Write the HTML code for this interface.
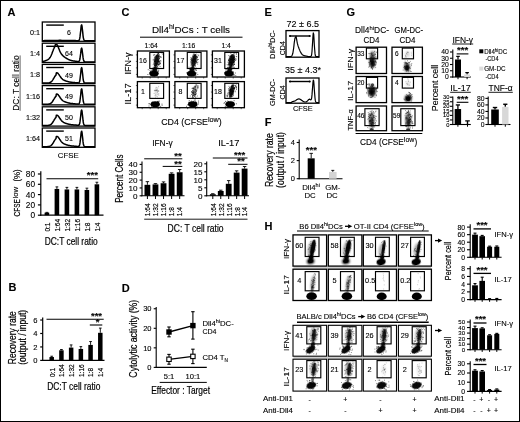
<!DOCTYPE html>
<html><head><meta charset="utf-8"><title>Figure</title>
<style>
html,body{margin:0;padding:0;background:#fff;}
body{width:520px;height:422px;overflow:hidden;position:relative;}
svg{position:absolute;left:0;top:0;display:block;font-family:"Liberation Sans",sans-serif;}
svg line{stroke:#000;}
svg text{fill:#000;stroke:#000;stroke-width:0.12px;}
svg text.n{stroke-width:0.2px;}
#fig{filter:blur(0.35px);}
</style></head><body>
<svg width="520" height="422" viewBox="0 0 520 422">
<rect x="0" y="0" width="520" height="422" fill="#fff"/>
<defs><filter id="b" x="-50%" y="-50%" width="200%" height="200%"><feGaussianBlur stdDeviation="0.55"/></filter><filter id="b2" x="-60%" y="-60%" width="220%" height="220%"><feGaussianBlur stdDeviation="1.1"/></filter></defs>
<g id="fig">
<text x="7.4" y="16.1" font-size="11" font-weight="bold">A</text>
<text x="8.5" y="291.3" font-size="11" font-weight="bold">B</text>
<text x="121.5" y="16.3" font-size="11" font-weight="bold">C</text>
<text x="121.8" y="291.6" font-size="11" font-weight="bold">D</text>
<text x="264.6" y="15.9" font-size="11" font-weight="bold">E</text>
<text x="264.8" y="125.6" font-size="11" font-weight="bold">F</text>
<text x="346.4" y="16.3" font-size="11" font-weight="bold">G</text>
<text x="264.4" y="230" font-size="11" font-weight="bold">H</text>
<rect x="42.30" y="22.00" width="52.70" height="19.30" fill="none" stroke="#000" stroke-width="1.3"/>
<path d="M42.3 40.7 L42.6 40.7 L43.0 40.7 L43.3 40.7 L43.6 40.7 L44.0 40.7 L44.3 40.6 L44.6 40.6 L45.0 40.6 L45.3 40.6 L45.6 40.6 L46.0 40.6 L46.3 40.6 L46.6 40.6 L47.0 40.6 L47.3 40.6 L47.6 40.6 L48.0 40.6 L48.3 40.6 L48.6 40.6 L49.0 40.6 L49.3 40.6 L49.6 40.5 L50.0 40.5 L50.3 40.5 L50.6 40.5 L51.0 40.5 L51.3 40.5 L51.6 40.5 L52.0 40.5 L52.3 40.5 L52.6 40.5 L53.0 40.5 L53.3 40.5 L53.6 40.4 L54.0 40.4 L54.3 40.4 L54.6 40.4 L55.0 40.4 L55.3 40.4 L55.6 40.4 L56.0 40.4 L56.3 40.4 L56.6 40.4 L57.0 40.4 L57.3 40.4 L57.6 40.4 L58.0 40.4 L58.3 40.4 L58.6 40.4 L59.0 40.3 L59.3 40.3 L59.6 40.3 L60.0 40.3 L60.3 40.3 L60.6 40.3 L61.0 40.3 L61.3 40.4 L61.6 40.4 L62.0 40.4 L62.3 40.4 L62.6 40.4 L63.0 40.4 L63.3 40.4 L63.6 40.4 L64.0 40.4 L64.3 40.4 L64.6 40.4 L65.0 40.4 L65.3 40.4 L65.6 40.4 L66.0 40.4 L66.3 40.4 L66.6 40.4 L67.0 40.5 L67.3 40.5 L67.6 40.5 L68.0 40.5 L68.3 40.5 L68.7 40.5 L69.0 40.5 L69.3 40.5 L69.7 40.5 L70.0 40.5 L70.3 40.5 L70.7 40.6 L71.0 40.6 L71.3 40.6 L71.7 40.6 L72.0 40.6 L72.3 40.6 L72.7 40.6 L73.0 40.6 L73.3 40.6 L73.7 40.6 L74.0 40.6 L74.3 40.6 L74.7 40.6 L75.0 40.6 L75.3 40.6 L75.7 40.6 L76.0 40.7 L76.3 40.7 L76.7 40.7 L77.0 40.7 L77.3 40.7 L77.7 40.7 L78.0 40.7 L78.3 40.6 L78.7 40.5 L79.0 40.3 L79.3 39.8 L79.7 38.7 L80.0 36.9 L80.3 34.2 L80.7 30.9 L81.0 27.7 L81.3 25.4 L81.7 24.8 L82.0 26.1 L82.3 28.8 L82.7 32.1 L83.0 35.3 L83.3 37.6 L83.7 39.2 L84.0 40.0 L84.3 40.4 L84.7 40.6 L85.0 40.7 L85.3 40.7 L85.7 40.7 L86.0 40.7 L86.3 40.7 L86.7 40.7 L87.0 40.7 L87.3 40.7 L87.7 40.7 L88.0 40.7 L88.3 40.7 L88.7 40.7 L89.0 40.7 L89.3 40.7 L89.7 40.7 L90.0 40.7 L90.3 40.7 L90.7 40.7 L91.0 40.7 L91.3 40.7 L91.7 40.7 L92.0 40.7 L92.3 40.7 L92.7 40.7 L93.0 40.7 L93.3 40.7 L93.7 40.7 L94.0 40.7 L94.3 40.7 L94.7 40.7 L95.0 40.7" fill="none" stroke="#000" stroke-width="1.5" stroke-linejoin="round"/>
<line x1="46.20" y1="25.10" x2="63.80" y2="25.10" stroke-width="1.4"/>
<text transform="translate(40.00,32.20) scale(0.95,1)" y="2.72" font-size="7.6" text-anchor="end">0:1</text>
<text transform="translate(69.00,32.50) scale(0.93,1)" y="2.72" font-size="7.6" text-anchor="middle">6</text>
<rect x="42.30" y="43.20" width="52.70" height="19.30" fill="none" stroke="#000" stroke-width="1.3"/>
<path d="M42.3 61.6 L42.6 61.5 L43.0 61.4 L43.3 61.4 L43.6 61.3 L44.0 61.2 L44.3 61.1 L44.6 61.0 L45.0 60.9 L45.3 60.8 L45.6 60.7 L46.0 60.6 L46.3 60.4 L46.6 60.3 L47.0 60.1 L47.3 60.0 L47.6 59.8 L48.0 59.6 L48.3 59.3 L48.6 59.1 L49.0 58.8 L49.3 58.4 L49.6 58.0 L50.0 57.6 L50.3 57.1 L50.6 56.5 L51.0 55.8 L51.3 55.1 L51.6 54.3 L52.0 53.5 L52.3 52.6 L52.6 51.7 L53.0 50.8 L53.3 49.9 L53.6 49.0 L54.0 48.3 L54.3 47.6 L54.6 47.0 L55.0 46.5 L55.3 44.7 L55.6 44.7 L56.0 44.7 L56.3 44.7 L56.6 44.7 L57.0 44.7 L57.3 45.0 L57.6 45.7 L58.0 46.5 L58.3 47.3 L58.6 48.2 L59.0 49.0 L59.3 49.8 L59.6 50.6 L60.0 51.4 L60.3 52.1 L60.6 52.7 L61.0 53.3 L61.3 53.8 L61.6 54.3 L62.0 54.7 L62.3 55.1 L62.6 55.4 L63.0 55.8 L63.3 56.1 L63.6 56.3 L64.0 56.6 L64.3 56.9 L64.6 57.1 L65.0 57.3 L65.3 57.6 L65.6 57.8 L66.0 58.0 L66.3 58.2 L66.6 58.5 L67.0 58.7 L67.3 58.9 L67.6 59.0 L68.0 59.2 L68.3 59.4 L68.7 59.6 L69.0 59.7 L69.3 59.8 L69.7 60.0 L70.0 60.1 L70.3 60.2 L70.7 60.3 L71.0 60.4 L71.3 60.5 L71.7 60.6 L72.0 60.7 L72.3 60.7 L72.7 60.8 L73.0 60.9 L73.3 60.9 L73.7 61.0 L74.0 61.0 L74.3 61.1 L74.7 61.1 L75.0 61.2 L75.3 61.2 L75.7 61.3 L76.0 61.3 L76.3 61.3 L76.7 61.4 L77.0 61.4 L77.3 61.5 L77.7 61.5 L78.0 61.5 L78.3 61.6 L78.7 61.5 L79.0 61.3 L79.3 60.9 L79.7 60.0 L80.0 58.5 L80.3 56.2 L80.7 53.4 L81.0 50.7 L81.3 48.7 L81.7 48.1 L82.0 49.2 L82.3 51.6 L82.7 54.5 L83.0 57.2 L83.3 59.2 L83.7 60.6 L84.0 61.3 L84.3 61.7 L84.7 61.8 L85.0 61.9 L85.3 61.9 L85.7 61.9 L86.0 61.9 L86.3 61.9 L86.7 61.9 L87.0 61.9 L87.3 61.9 L87.7 61.9 L88.0 61.9 L88.3 61.9 L88.7 61.9 L89.0 61.9 L89.3 61.9 L89.7 61.9 L90.0 61.9 L90.3 61.9 L90.7 61.9 L91.0 61.9 L91.3 61.9 L91.7 61.9 L92.0 61.9 L92.3 61.9 L92.7 61.9 L93.0 61.9 L93.3 61.9 L93.7 61.9 L94.0 61.9 L94.3 61.9 L94.7 61.9 L95.0 61.9" fill="none" stroke="#000" stroke-width="1.5" stroke-linejoin="round"/>
<line x1="46.20" y1="46.30" x2="63.80" y2="46.30" stroke-width="1.4"/>
<text transform="translate(40.00,53.40) scale(0.95,1)" y="2.72" font-size="7.6" text-anchor="end">1:4</text>
<text transform="translate(69.00,53.70) scale(0.93,1)" y="2.72" font-size="7.6" text-anchor="middle">64</text>
<rect x="42.30" y="64.40" width="52.70" height="19.30" fill="none" stroke="#000" stroke-width="1.3"/>
<path d="M42.3 83.1 L42.6 83.1 L43.0 83.1 L43.3 83.1 L43.6 83.1 L44.0 83.1 L44.3 83.1 L44.6 83.1 L45.0 83.1 L45.3 83.1 L45.6 83.1 L46.0 83.1 L46.3 83.1 L46.6 83.1 L47.0 83.1 L47.3 83.1 L47.6 83.0 L48.0 83.0 L48.3 83.0 L48.6 82.9 L49.0 82.9 L49.3 82.8 L49.6 82.7 L50.0 82.6 L50.3 82.4 L50.6 82.2 L51.0 82.0 L51.3 81.7 L51.6 81.4 L52.0 81.0 L52.3 80.6 L52.6 80.1 L53.0 79.6 L53.3 79.0 L53.6 78.5 L54.0 77.9 L54.3 77.3 L54.6 76.8 L55.0 76.3 L55.3 75.8 L55.6 75.4 L56.0 75.1 L56.3 72.9 L56.6 72.8 L57.0 72.8 L57.3 72.9 L57.6 73.1 L58.0 73.4 L58.3 73.7 L58.6 74.1 L59.0 74.6 L59.3 75.1 L59.6 75.6 L60.0 76.1 L60.3 76.6 L60.6 77.1 L61.0 77.5 L61.3 78.0 L61.6 78.4 L62.0 78.7 L62.3 79.0 L62.6 79.3 L63.0 79.6 L63.3 79.8 L63.6 80.0 L64.0 80.2 L64.3 80.4 L64.6 80.5 L65.0 80.6 L65.3 80.8 L65.6 80.9 L66.0 81.0 L66.3 81.1 L66.6 81.2 L67.0 81.3 L67.3 81.4 L67.6 81.5 L68.0 81.6 L68.3 81.7 L68.7 81.8 L69.0 81.9 L69.3 81.9 L69.7 82.0 L70.0 82.0 L70.3 82.1 L70.7 82.2 L71.0 82.2 L71.3 82.3 L71.7 82.3 L72.0 82.3 L72.3 82.4 L72.7 82.4 L73.0 82.4 L73.3 82.5 L73.7 82.5 L74.0 82.5 L74.3 82.6 L74.7 82.6 L75.0 82.6 L75.3 82.7 L75.7 82.7 L76.0 82.7 L76.3 82.7 L76.7 82.8 L77.0 82.8 L77.3 82.8 L77.7 82.8 L78.0 82.9 L78.3 82.9 L78.7 82.8 L79.0 82.6 L79.3 82.1 L79.7 81.1 L80.0 79.3 L80.3 76.7 L80.7 73.6 L81.0 70.4 L81.3 68.2 L81.7 67.6 L82.0 68.8 L82.3 71.5 L82.7 74.7 L83.0 77.8 L83.3 80.1 L83.7 81.6 L84.0 82.4 L84.3 82.8 L84.7 83.0 L85.0 83.1 L85.3 83.1 L85.7 83.1 L86.0 83.1 L86.3 83.1 L86.7 83.1 L87.0 83.1 L87.3 83.1 L87.7 83.1 L88.0 83.1 L88.3 83.1 L88.7 83.1 L89.0 83.1 L89.3 83.1 L89.7 83.1 L90.0 83.1 L90.3 83.1 L90.7 83.1 L91.0 83.1 L91.3 83.1 L91.7 83.1 L92.0 83.1 L92.3 83.1 L92.7 83.1 L93.0 83.1 L93.3 83.1 L93.7 83.1 L94.0 83.1 L94.3 83.1 L94.7 83.1 L95.0 83.1" fill="none" stroke="#000" stroke-width="1.5" stroke-linejoin="round"/>
<line x1="46.20" y1="67.50" x2="63.80" y2="67.50" stroke-width="1.4"/>
<text transform="translate(40.00,74.60) scale(0.95,1)" y="2.72" font-size="7.6" text-anchor="end">1:8</text>
<text transform="translate(69.00,74.90) scale(0.93,1)" y="2.72" font-size="7.6" text-anchor="middle">49</text>
<rect x="42.30" y="85.60" width="52.70" height="19.30" fill="none" stroke="#000" stroke-width="1.3"/>
<path d="M42.3 104.3 L42.6 104.3 L43.0 104.3 L43.3 104.3 L43.6 104.3 L44.0 104.3 L44.3 104.3 L44.6 104.3 L45.0 104.3 L45.3 104.3 L45.6 104.3 L46.0 104.3 L46.3 104.3 L46.6 104.3 L47.0 104.3 L47.3 104.3 L47.6 104.2 L48.0 104.2 L48.3 104.2 L48.6 104.1 L49.0 104.1 L49.3 104.0 L49.6 103.9 L50.0 103.8 L50.3 103.6 L50.6 103.4 L51.0 103.2 L51.3 102.9 L51.6 102.6 L52.0 102.2 L52.3 101.8 L52.6 101.3 L53.0 100.8 L53.3 100.2 L53.6 99.7 L54.0 99.1 L54.3 98.5 L54.6 98.0 L55.0 97.5 L55.3 97.0 L55.6 96.6 L56.0 96.3 L56.3 94.1 L56.6 94.0 L57.0 94.0 L57.3 94.1 L57.6 94.3 L58.0 94.6 L58.3 94.9 L58.6 95.3 L59.0 95.8 L59.3 96.3 L59.6 96.8 L60.0 97.3 L60.3 97.8 L60.6 98.3 L61.0 98.7 L61.3 99.2 L61.6 99.6 L62.0 99.9 L62.3 100.2 L62.6 100.5 L63.0 100.8 L63.3 101.0 L63.6 101.2 L64.0 101.4 L64.3 101.6 L64.6 101.7 L65.0 101.8 L65.3 102.0 L65.6 102.1 L66.0 102.2 L66.3 102.3 L66.6 102.4 L67.0 102.5 L67.3 102.6 L67.6 102.7 L68.0 102.8 L68.3 102.9 L68.7 103.0 L69.0 103.1 L69.3 103.1 L69.7 103.2 L70.0 103.2 L70.3 103.3 L70.7 103.4 L71.0 103.4 L71.3 103.5 L71.7 103.5 L72.0 103.5 L72.3 103.6 L72.7 103.6 L73.0 103.6 L73.3 103.7 L73.7 103.7 L74.0 103.7 L74.3 103.8 L74.7 103.8 L75.0 103.8 L75.3 103.9 L75.7 103.9 L76.0 103.9 L76.3 103.9 L76.7 104.0 L77.0 104.0 L77.3 104.0 L77.7 104.0 L78.0 104.1 L78.3 104.1 L78.7 104.0 L79.0 103.8 L79.3 103.3 L79.7 102.3 L80.0 100.5 L80.3 97.9 L80.7 94.8 L81.0 91.6 L81.3 89.4 L81.7 88.8 L82.0 90.0 L82.3 92.7 L82.7 95.9 L83.0 99.0 L83.3 101.3 L83.7 102.8 L84.0 103.6 L84.3 104.0 L84.7 104.2 L85.0 104.3 L85.3 104.3 L85.7 104.3 L86.0 104.3 L86.3 104.3 L86.7 104.3 L87.0 104.3 L87.3 104.3 L87.7 104.3 L88.0 104.3 L88.3 104.3 L88.7 104.3 L89.0 104.3 L89.3 104.3 L89.7 104.3 L90.0 104.3 L90.3 104.3 L90.7 104.3 L91.0 104.3 L91.3 104.3 L91.7 104.3 L92.0 104.3 L92.3 104.3 L92.7 104.3 L93.0 104.3 L93.3 104.3 L93.7 104.3 L94.0 104.3 L94.3 104.3 L94.7 104.3 L95.0 104.3" fill="none" stroke="#000" stroke-width="1.5" stroke-linejoin="round"/>
<line x1="46.20" y1="88.70" x2="63.80" y2="88.70" stroke-width="1.4"/>
<text transform="translate(40.00,95.80) scale(0.95,1)" y="2.72" font-size="7.6" text-anchor="end">1:16</text>
<text transform="translate(69.00,96.10) scale(0.93,1)" y="2.72" font-size="7.6" text-anchor="middle">49</text>
<rect x="42.30" y="106.80" width="52.70" height="19.30" fill="none" stroke="#000" stroke-width="1.3"/>
<path d="M42.3 125.5 L42.6 125.5 L43.0 125.5 L43.3 125.5 L43.6 125.5 L44.0 125.5 L44.3 125.5 L44.6 125.5 L45.0 125.5 L45.3 125.5 L45.6 125.5 L46.0 125.5 L46.3 125.5 L46.6 125.5 L47.0 125.5 L47.3 125.5 L47.6 125.4 L48.0 125.4 L48.3 125.4 L48.6 125.3 L49.0 125.3 L49.3 125.2 L49.6 125.1 L50.0 125.0 L50.3 124.8 L50.6 124.6 L51.0 124.4 L51.3 124.1 L51.6 123.8 L52.0 123.4 L52.3 123.0 L52.6 122.5 L53.0 122.0 L53.3 121.4 L53.6 120.9 L54.0 120.3 L54.3 119.7 L54.6 119.2 L55.0 118.7 L55.3 118.2 L55.6 117.8 L56.0 117.5 L56.3 115.3 L56.6 115.2 L57.0 115.2 L57.3 115.3 L57.6 115.5 L58.0 115.8 L58.3 116.1 L58.6 116.5 L59.0 117.0 L59.3 117.5 L59.6 118.0 L60.0 118.5 L60.3 119.0 L60.6 119.5 L61.0 119.9 L61.3 120.4 L61.6 120.8 L62.0 121.1 L62.3 121.4 L62.6 121.7 L63.0 122.0 L63.3 122.2 L63.6 122.4 L64.0 122.6 L64.3 122.8 L64.6 122.9 L65.0 123.0 L65.3 123.2 L65.6 123.3 L66.0 123.4 L66.3 123.5 L66.6 123.6 L67.0 123.7 L67.3 123.8 L67.6 123.9 L68.0 124.0 L68.3 124.1 L68.7 124.2 L69.0 124.3 L69.3 124.3 L69.7 124.4 L70.0 124.4 L70.3 124.5 L70.7 124.6 L71.0 124.6 L71.3 124.7 L71.7 124.7 L72.0 124.7 L72.3 124.8 L72.7 124.8 L73.0 124.8 L73.3 124.9 L73.7 124.9 L74.0 124.9 L74.3 125.0 L74.7 125.0 L75.0 125.0 L75.3 125.1 L75.7 125.1 L76.0 125.1 L76.3 125.1 L76.7 125.2 L77.0 125.2 L77.3 125.2 L77.7 125.2 L78.0 125.3 L78.3 125.3 L78.7 125.2 L79.0 125.0 L79.3 124.5 L79.7 123.5 L80.0 121.7 L80.3 119.1 L80.7 116.0 L81.0 112.8 L81.3 110.6 L81.7 110.0 L82.0 111.2 L82.3 113.9 L82.7 117.1 L83.0 120.2 L83.3 122.5 L83.7 124.0 L84.0 124.8 L84.3 125.2 L84.7 125.4 L85.0 125.5 L85.3 125.5 L85.7 125.5 L86.0 125.5 L86.3 125.5 L86.7 125.5 L87.0 125.5 L87.3 125.5 L87.7 125.5 L88.0 125.5 L88.3 125.5 L88.7 125.5 L89.0 125.5 L89.3 125.5 L89.7 125.5 L90.0 125.5 L90.3 125.5 L90.7 125.5 L91.0 125.5 L91.3 125.5 L91.7 125.5 L92.0 125.5 L92.3 125.5 L92.7 125.5 L93.0 125.5 L93.3 125.5 L93.7 125.5 L94.0 125.5 L94.3 125.5 L94.7 125.5 L95.0 125.5" fill="none" stroke="#000" stroke-width="1.5" stroke-linejoin="round"/>
<line x1="46.20" y1="109.90" x2="63.80" y2="109.90" stroke-width="1.4"/>
<text transform="translate(40.00,117.00) scale(0.95,1)" y="2.72" font-size="7.6" text-anchor="end">1:32</text>
<text transform="translate(69.00,117.30) scale(0.93,1)" y="2.72" font-size="7.6" text-anchor="middle">50</text>
<rect x="42.30" y="128.00" width="52.70" height="19.30" fill="none" stroke="#000" stroke-width="1.3"/>
<path d="M42.3 146.7 L42.6 146.7 L43.0 146.7 L43.3 146.7 L43.6 146.7 L44.0 146.7 L44.3 146.7 L44.6 146.7 L45.0 146.7 L45.3 146.7 L45.6 146.7 L46.0 146.7 L46.3 146.7 L46.6 146.7 L47.0 146.7 L47.3 146.7 L47.6 146.6 L48.0 146.6 L48.3 146.6 L48.6 146.5 L49.0 146.5 L49.3 146.4 L49.6 146.3 L50.0 146.2 L50.3 146.0 L50.6 145.8 L51.0 145.6 L51.3 145.3 L51.6 145.0 L52.0 144.6 L52.3 144.2 L52.6 143.7 L53.0 143.2 L53.3 142.6 L53.6 142.1 L54.0 141.5 L54.3 140.9 L54.6 140.4 L55.0 139.9 L55.3 139.4 L55.6 139.0 L56.0 138.7 L56.3 136.5 L56.6 136.4 L57.0 136.4 L57.3 136.5 L57.6 136.7 L58.0 137.0 L58.3 137.3 L58.6 137.7 L59.0 138.2 L59.3 138.7 L59.6 139.2 L60.0 139.7 L60.3 140.2 L60.6 140.7 L61.0 141.1 L61.3 141.6 L61.6 142.0 L62.0 142.3 L62.3 142.6 L62.6 142.9 L63.0 143.2 L63.3 143.4 L63.6 143.6 L64.0 143.8 L64.3 144.0 L64.6 144.1 L65.0 144.2 L65.3 144.4 L65.6 144.5 L66.0 144.6 L66.3 144.7 L66.6 144.8 L67.0 144.9 L67.3 145.0 L67.6 145.1 L68.0 145.2 L68.3 145.3 L68.7 145.4 L69.0 145.5 L69.3 145.5 L69.7 145.6 L70.0 145.6 L70.3 145.7 L70.7 145.8 L71.0 145.8 L71.3 145.9 L71.7 145.9 L72.0 145.9 L72.3 146.0 L72.7 146.0 L73.0 146.0 L73.3 146.1 L73.7 146.1 L74.0 146.1 L74.3 146.2 L74.7 146.2 L75.0 146.2 L75.3 146.3 L75.7 146.3 L76.0 146.3 L76.3 146.3 L76.7 146.4 L77.0 146.4 L77.3 146.4 L77.7 146.4 L78.0 146.5 L78.3 146.5 L78.7 146.4 L79.0 146.2 L79.3 145.7 L79.7 144.7 L80.0 142.9 L80.3 140.3 L80.7 137.2 L81.0 134.0 L81.3 131.8 L81.7 131.2 L82.0 132.4 L82.3 135.1 L82.7 138.3 L83.0 141.4 L83.3 143.7 L83.7 145.2 L84.0 146.0 L84.3 146.4 L84.7 146.6 L85.0 146.7 L85.3 146.7 L85.7 146.7 L86.0 146.7 L86.3 146.7 L86.7 146.7 L87.0 146.7 L87.3 146.7 L87.7 146.7 L88.0 146.7 L88.3 146.7 L88.7 146.7 L89.0 146.7 L89.3 146.7 L89.7 146.7 L90.0 146.7 L90.3 146.7 L90.7 146.7 L91.0 146.7 L91.3 146.7 L91.7 146.7 L92.0 146.7 L92.3 146.7 L92.7 146.7 L93.0 146.7 L93.3 146.7 L93.7 146.7 L94.0 146.7 L94.3 146.7 L94.7 146.7 L95.0 146.7" fill="none" stroke="#000" stroke-width="1.5" stroke-linejoin="round"/>
<line x1="46.20" y1="131.10" x2="63.80" y2="131.10" stroke-width="1.4"/>
<text transform="translate(40.00,138.20) scale(0.95,1)" y="2.72" font-size="7.6" text-anchor="end">1:64</text>
<text transform="translate(69.00,138.50) scale(0.93,1)" y="2.72" font-size="7.6" text-anchor="middle">51</text>
<text transform="translate(68.20,155.00) scale(0.984,1)" y="2.86" font-size="8" text-anchor="middle">CFSE</text>
<text transform="translate(15.10,83.10) rotate(-90) scale(0.878,1)" y="3.44" font-size="9.6" text-anchor="middle">DC: T cell ratio</text>
<line x1="20.10" y1="55.40" x2="20.10" y2="110.80" stroke-width="0.7" style="stroke:#222"/>
<line x1="40.80" y1="171.30" x2="40.80" y2="215.80" stroke-width="1.2"/>
<line x1="40.20" y1="215.20" x2="103.50" y2="215.20" stroke-width="1.2"/>
<line x1="37.90" y1="215.20" x2="40.80" y2="215.20" stroke-width="1.2"/>
<text transform="translate(35.00,215.20)" y="2.97" font-size="8.3" text-anchor="end">0</text>
<line x1="37.90" y1="204.90" x2="40.80" y2="204.90" stroke-width="1.2"/>
<text transform="translate(35.00,204.90)" y="2.97" font-size="8.3" text-anchor="end">20</text>
<line x1="37.90" y1="194.60" x2="40.80" y2="194.60" stroke-width="1.2"/>
<text transform="translate(35.00,194.60)" y="2.97" font-size="8.3" text-anchor="end">40</text>
<line x1="37.90" y1="184.30" x2="40.80" y2="184.30" stroke-width="1.2"/>
<text transform="translate(35.00,184.30)" y="2.97" font-size="8.3" text-anchor="end">60</text>
<line x1="37.90" y1="174.00" x2="40.80" y2="174.00" stroke-width="1.2"/>
<text transform="translate(35.00,174.00)" y="2.97" font-size="8.3" text-anchor="end">80</text>
<line x1="46.90" y1="212.62" x2="46.90" y2="212.37" stroke-width="0.9"/>
<line x1="45.52" y1="212.37" x2="48.28" y2="212.37" stroke-width="0.9"/>
<rect x="44.60" y="212.62" width="4.60" height="2.57" fill="#000" stroke="none"/>
<line x1="56.90" y1="188.94" x2="56.90" y2="186.88" stroke-width="0.9"/>
<line x1="55.52" y1="186.88" x2="58.28" y2="186.88" stroke-width="0.9"/>
<rect x="54.60" y="188.94" width="4.60" height="26.26" fill="#000" stroke="none"/>
<line x1="66.90" y1="189.45" x2="66.90" y2="187.39" stroke-width="0.9"/>
<line x1="65.52" y1="187.39" x2="68.28" y2="187.39" stroke-width="0.9"/>
<rect x="64.60" y="189.45" width="4.60" height="25.75" fill="#000" stroke="none"/>
<line x1="76.90" y1="189.45" x2="76.90" y2="187.39" stroke-width="0.9"/>
<line x1="75.52" y1="187.39" x2="78.28" y2="187.39" stroke-width="0.9"/>
<rect x="74.60" y="189.45" width="4.60" height="25.75" fill="#000" stroke="none"/>
<line x1="86.90" y1="189.96" x2="86.90" y2="188.16" stroke-width="0.9"/>
<line x1="85.52" y1="188.16" x2="88.28" y2="188.16" stroke-width="0.9"/>
<rect x="84.60" y="189.96" width="4.60" height="25.24" fill="#000" stroke="none"/>
<line x1="96.90" y1="184.30" x2="96.90" y2="182.24" stroke-width="0.9"/>
<line x1="95.52" y1="182.24" x2="98.28" y2="182.24" stroke-width="0.9"/>
<rect x="94.60" y="184.30" width="4.60" height="30.90" fill="#000" stroke="none"/>
<line x1="46.50" y1="178.80" x2="98.20" y2="178.80" stroke-width="1.1"/>
<text x="92.30" y="178.16" font-size="9.5" text-anchor="middle" font-weight="bold">***</text>
<text transform="translate(16.50,216.40) rotate(-90) scale(0.721,1)" y="3.22" font-size="9.0" text-anchor="start" class="n">CFSE</text>
<text transform="translate(15.60,198.50) rotate(-90) scale(1.156,1)" y="2.43" font-size="6.8" text-anchor="start">low</text>
<text transform="translate(16.60,181.60) rotate(-90) scale(0.853,1)" y="3.29" font-size="9.2" text-anchor="start" class="n">(%)</text>
<text transform="translate(46.90,231.60) rotate(-90) scale(0.82,1)" y="2.86" font-size="8" text-anchor="start" class="n">0:1</text>
<text transform="translate(56.90,231.60) rotate(-90) scale(0.82,1)" y="2.86" font-size="8" text-anchor="start" class="n">1:64</text>
<text transform="translate(66.90,231.60) rotate(-90) scale(0.82,1)" y="2.86" font-size="8" text-anchor="start" class="n">1:32</text>
<text transform="translate(76.90,231.60) rotate(-90) scale(0.82,1)" y="2.86" font-size="8" text-anchor="start" class="n">1:16</text>
<text transform="translate(86.90,231.60) rotate(-90) scale(0.82,1)" y="2.86" font-size="8" text-anchor="start" class="n">1:8</text>
<text transform="translate(96.90,231.60) rotate(-90) scale(0.82,1)" y="2.86" font-size="8" text-anchor="start" class="n">1:4</text>
<text transform="translate(71.20,241.10) scale(0.815,1)" y="3.69" font-size="10.3" text-anchor="middle" class="n">DC:T cell ratio</text>
<line x1="42.70" y1="317.50" x2="42.70" y2="361.00" stroke-width="1.2"/>
<line x1="42.10" y1="360.40" x2="104.50" y2="360.40" stroke-width="1.2"/>
<line x1="40.20" y1="360.40" x2="42.70" y2="360.40" stroke-width="1.2"/>
<text transform="translate(37.60,360.40)" y="2.72" font-size="7.6" text-anchor="end">0</text>
<line x1="40.20" y1="346.94" x2="42.70" y2="346.94" stroke-width="1.2"/>
<text transform="translate(37.60,346.94)" y="2.72" font-size="7.6" text-anchor="end">2</text>
<line x1="40.20" y1="333.48" x2="42.70" y2="333.48" stroke-width="1.2"/>
<text transform="translate(37.60,333.48)" y="2.72" font-size="7.6" text-anchor="end">4</text>
<line x1="40.20" y1="320.02" x2="42.70" y2="320.02" stroke-width="1.2"/>
<text transform="translate(37.60,320.02)" y="2.72" font-size="7.6" text-anchor="end">6</text>
<line x1="51.70" y1="357.03" x2="51.70" y2="356.23" stroke-width="0.9"/>
<line x1="50.35" y1="356.23" x2="53.05" y2="356.23" stroke-width="0.9"/>
<rect x="49.45" y="357.03" width="4.50" height="3.37" fill="#000" stroke="none"/>
<line x1="61.42" y1="350.30" x2="61.42" y2="349.50" stroke-width="0.9"/>
<line x1="60.07" y1="349.50" x2="62.77" y2="349.50" stroke-width="0.9"/>
<rect x="59.17" y="350.30" width="4.50" height="10.10" fill="#000" stroke="none"/>
<line x1="71.14" y1="347.61" x2="71.14" y2="344.92" stroke-width="0.9"/>
<line x1="69.79" y1="344.92" x2="72.49" y2="344.92" stroke-width="0.9"/>
<rect x="68.89" y="347.61" width="4.50" height="12.79" fill="#000" stroke="none"/>
<line x1="80.86" y1="348.96" x2="80.86" y2="346.60" stroke-width="0.9"/>
<line x1="79.51" y1="346.60" x2="82.21" y2="346.60" stroke-width="0.9"/>
<rect x="78.61" y="348.96" width="4.50" height="11.44" fill="#000" stroke="none"/>
<line x1="90.58" y1="344.92" x2="90.58" y2="341.56" stroke-width="0.9"/>
<line x1="89.23" y1="341.56" x2="91.93" y2="341.56" stroke-width="0.9"/>
<rect x="88.33" y="344.92" width="4.50" height="15.48" fill="#000" stroke="none"/>
<line x1="100.30" y1="332.81" x2="100.30" y2="328.10" stroke-width="0.9"/>
<line x1="98.95" y1="328.10" x2="101.65" y2="328.10" stroke-width="0.9"/>
<rect x="98.05" y="332.81" width="4.50" height="27.59" fill="#000" stroke="none"/>
<line x1="46.50" y1="319.30" x2="103.70" y2="319.30" stroke-width="1.1"/>
<text x="96.50" y="318.86" font-size="9.5" text-anchor="middle" font-weight="bold">***</text>
<line x1="89.80" y1="325.00" x2="102.30" y2="325.00" stroke-width="1.1"/>
<text x="97.50" y="325.06" font-size="9.5" text-anchor="middle" font-weight="bold">*</text>
<text transform="translate(12.40,337.70) rotate(-90) scale(0.819,1)" y="3.72" font-size="10.4" text-anchor="middle" class="n">Recovery rate</text>
<text transform="translate(22.50,337.30) rotate(-90) scale(0.82,1)" y="3.72" font-size="10.4" text-anchor="middle" class="n">(output / input)</text>
<text transform="translate(51.70,377.00) rotate(-90) scale(0.82,1)" y="2.86" font-size="8" text-anchor="start" class="n">0:1</text>
<text transform="translate(61.42,377.00) rotate(-90) scale(0.82,1)" y="2.86" font-size="8" text-anchor="start" class="n">1:64</text>
<text transform="translate(71.14,377.00) rotate(-90) scale(0.82,1)" y="2.86" font-size="8" text-anchor="start" class="n">1:32</text>
<text transform="translate(80.86,377.00) rotate(-90) scale(0.82,1)" y="2.86" font-size="8" text-anchor="start" class="n">1:16</text>
<text transform="translate(90.58,377.00) rotate(-90) scale(0.82,1)" y="2.86" font-size="8" text-anchor="start" class="n">1:8</text>
<text transform="translate(100.30,377.00) rotate(-90) scale(0.82,1)" y="2.86" font-size="8" text-anchor="start" class="n">1:4</text>
<text transform="translate(73.80,386.50) scale(0.819,1)" y="3.69" font-size="10.3" text-anchor="middle" class="n">DC:T cell ratio</text>
<text transform="translate(191.00,29.40) scale(1.04,1)" y="3.40" font-size="9.5" text-anchor="middle">Dll4<tspan dy="-3.42" font-size="6.65">hi</tspan><tspan dy="3.42">DCs : T cells</tspan></text>
<line x1="140.00" y1="37.20" x2="242.50" y2="37.20" stroke-width="1.0"/>
<text transform="translate(151.10,45.50)" y="2.43" font-size="6.8" text-anchor="middle">1:64</text>
<ellipse cx="156.6" cy="60.5" rx="2.4" ry="6.6" fill="#000" opacity="0.92" transform="rotate(11 156.6 60.5)" filter="url(#b)"/>
<path d="M158.8 54.6h0.8M154.3 65.3h0.8M157.7 54.1h0.8M159.0 62.8h0.8M154.4 54.7h0.8M157.2 63.9h0.8M157.7 67.9h0.8M156.0 60.0h0.8M154.8 59.1h0.8M157.9 55.0h0.8M155.6 61.2h0.8M157.4 60.2h0.8M158.8 63.8h0.8M158.2 61.5h0.8M157.5 53.7h0.8M158.0 53.4h0.8M157.9 56.8h0.8M158.8 60.3h0.8M157.1 54.1h0.8M155.7 63.7h0.8M156.5 62.3h0.8M159.0 55.7h0.8M156.1 56.6h0.8M155.9 63.8h0.8M154.1 65.1h0.8M155.3 65.3h0.8M157.0 66.6h0.8M154.4 61.2h0.8M157.1 64.2h0.8M154.0 68.4h0.8M157.4 63.2h0.8M156.9 61.9h0.8M154.9 61.4h0.8M156.5 55.6h0.8M160.0 63.3h0.8M158.4 65.2h0.8M157.7 64.2h0.8M158.4 61.4h0.8M155.1 58.9h0.8M158.9 61.7h0.8M152.8 64.7h0.8M158.4 61.3h0.8M154.2 61.1h0.8M157.7 60.0h0.8M157.4 65.9h0.8M160.1 60.8h0.8M159.4 56.8h0.8M154.8 65.8h0.8M158.1 56.1h0.8M160.1 63.0h0.8M157.6 55.7h0.8M155.6 63.6h0.8M158.4 64.4h0.8M156.4 56.1h0.8M158.0 61.6h0.8M160.5 61.0h0.8M154.9 60.1h0.8M158.9 58.2h0.8M156.9 67.3h0.8M154.5 61.9h0.8M155.8 57.6h0.8M155.2 63.3h0.8M156.1 64.3h0.8M157.2 58.9h0.8M158.4 62.6h0.8M156.5 58.2h0.8M162.1 54.0h0.8M154.7 67.5h0.8M153.8 58.2h0.8M157.0 61.3h0.8M154.3 61.7h0.8M155.7 67.3h0.8M158.6 52.8h0.8M161.1 52.8h0.8M155.6 63.2h0.8M152.7 59.9h0.8M153.7 63.4h0.8M159.7 66.4h0.8M153.7 54.8h0.8M158.0 64.7h0.8M155.7 55.8h0.8M154.2 57.2h0.8M160.5 57.2h0.8M155.7 63.8h0.8M154.2 59.9h0.8M153.3 59.9h0.8M159.7 63.8h0.8M159.3 64.5h0.8M154.5 61.7h0.8M155.5 60.9h0.8M153.3 55.2h0.8M158.0 53.4h0.8M155.2 61.2h0.8M155.7 67.4h0.8M159.2 63.3h0.8M159.3 56.6h0.8M160.7 57.2h0.8M158.9 62.1h0.8M157.7 64.2h0.8M155.3 57.3h0.8M159.0 58.4h0.8M158.4 64.7h0.8M156.7 52.5h0.8M158.3 60.0h0.8M158.0 56.8h0.8M159.0 61.6h0.8M155.2 56.6h0.8M160.2 56.8h0.8M157.3 59.9h0.8M157.0 61.0h0.8" stroke="#000" stroke-width="0.8" fill="none" opacity="0.8"/>
<ellipse cx="154.7" cy="69.5" rx="2.3" ry="3.2" fill="#000" opacity="0.97" transform="rotate(25 154.7 69.5)" filter="url(#b)"/>
<ellipse cx="154.0" cy="73.6" rx="4.7" ry="2.9" fill="#000" opacity="1.0" transform="rotate(0 154.0 73.6)" filter="url(#b)"/>
<path d="M152.7 72.8h0.8M151.4 70.4h0.8M153.1 73.4h0.8M155.4 73.4h0.8M154.8 71.8h0.8M151.0 73.9h0.8M150.0 71.5h0.8M157.6 70.9h0.8M151.6 72.7h0.8M154.4 71.9h0.8M154.3 75.9h0.8M151.6 73.0h0.8M157.6 73.0h0.8M149.4 72.4h0.8M149.6 70.4h0.8M158.4 70.1h0.8M153.1 74.1h0.8M157.2 75.0h0.8M147.8 69.7h0.8M157.6 71.2h0.8M152.5 75.7h0.8M151.8 72.4h0.8M150.0 72.6h0.8M156.0 70.5h0.8M152.4 72.5h0.8M156.3 71.1h0.8M157.7 71.6h0.8M147.5 74.5h0.8M153.0 72.1h0.8M154.5 73.3h0.8M154.8 72.5h0.8M150.4 72.0h0.8" stroke="#000" stroke-width="0.8" fill="none" opacity="0.9"/>
<rect x="137.40" y="51.00" width="32.00" height="26.00" fill="none" stroke="#000" stroke-width="1.3"/>
<rect x="149.80" y="52.40" width="13.80" height="16.10" fill="none" stroke="#000" stroke-width="1.15"/>
<line x1="135.90" y1="54.90" x2="137.40" y2="54.90" stroke-width="0.6"/>
<line x1="135.90" y1="61.40" x2="137.40" y2="61.40" stroke-width="0.6"/>
<line x1="135.90" y1="67.90" x2="137.40" y2="67.90" stroke-width="0.6"/>
<line x1="135.90" y1="74.40" x2="137.40" y2="74.40" stroke-width="0.6"/>
<line x1="142.20" y1="77.00" x2="142.20" y2="78.50" stroke-width="0.6"/>
<line x1="150.20" y1="77.00" x2="150.20" y2="78.50" stroke-width="0.6"/>
<line x1="158.20" y1="77.00" x2="158.20" y2="78.50" stroke-width="0.6"/>
<line x1="166.20" y1="77.00" x2="166.20" y2="78.50" stroke-width="0.6"/>
<text transform="translate(143.00,60.60)" y="2.51" font-size="7" text-anchor="middle">16</text>
<ellipse cx="156.4" cy="91.6" rx="1.8" ry="4.5" fill="#000" opacity="0.12" transform="rotate(0 156.4 91.6)" filter="url(#b)"/>
<path d="M153.7 93.4h0.8M157.8 90.9h0.8M158.3 86.4h0.8M157.1 90.0h0.8M156.8 91.1h0.8M155.7 96.4h0.8M155.1 97.9h0.8M157.6 87.9h0.8M155.8 87.3h0.8M158.5 95.2h0.8M158.4 93.6h0.8M155.4 90.6h0.8M154.4 90.4h0.8M156.1 90.5h0.8M158.4 91.0h0.8M153.9 90.7h0.8M154.6 95.8h0.8M156.2 89.8h0.8M154.7 90.2h0.8M155.4 90.6h0.8M158.3 91.1h0.8M157.7 94.6h0.8M154.9 95.0h0.8M157.2 92.1h0.8M157.2 96.8h0.8M156.5 90.6h0.8" stroke="#000" stroke-width="0.8" fill="none" opacity="0.4"/>
<ellipse cx="155.2" cy="104.2" rx="4.7" ry="2.9" fill="#000" opacity="1.0" transform="rotate(0 155.2 104.2)" filter="url(#b)"/>
<path d="M156.2 103.4h0.8M153.8 105.5h0.8M151.8 102.0h0.8M160.3 106.4h0.8M158.6 106.2h0.8M155.2 105.8h0.8M151.0 105.4h0.8M152.3 103.4h0.8M152.9 105.6h0.8M156.8 103.7h0.8M158.5 101.7h0.8M157.0 101.4h0.8M154.8 102.6h0.8M153.2 105.5h0.8M158.0 101.8h0.8M153.8 104.8h0.8M161.6 104.1h0.8M157.0 103.8h0.8M151.6 105.1h0.8M153.2 104.2h0.8M158.7 101.0h0.8M155.5 105.4h0.8M157.1 101.8h0.8M148.5 103.7h0.8M149.1 103.8h0.8M155.8 103.8h0.8M156.1 104.7h0.8M150.6 104.3h0.8M153.2 103.0h0.8M156.3 103.4h0.8M161.7 105.3h0.8M154.4 104.8h0.8M148.6 106.0h0.8M153.1 104.8h0.8M151.0 106.2h0.8" stroke="#000" stroke-width="0.8" fill="none" opacity="0.9"/>
<rect x="137.40" y="81.60" width="32.00" height="26.10" fill="none" stroke="#000" stroke-width="1.3"/>
<rect x="149.80" y="83.30" width="13.80" height="15.10" fill="none" stroke="#000" stroke-width="1.15"/>
<line x1="135.90" y1="85.52" x2="137.40" y2="85.52" stroke-width="0.6"/>
<line x1="135.90" y1="92.04" x2="137.40" y2="92.04" stroke-width="0.6"/>
<line x1="135.90" y1="98.56" x2="137.40" y2="98.56" stroke-width="0.6"/>
<line x1="135.90" y1="105.09" x2="137.40" y2="105.09" stroke-width="0.6"/>
<line x1="142.20" y1="107.70" x2="142.20" y2="109.20" stroke-width="0.6"/>
<line x1="150.20" y1="107.70" x2="150.20" y2="109.20" stroke-width="0.6"/>
<line x1="158.20" y1="107.70" x2="158.20" y2="109.20" stroke-width="0.6"/>
<line x1="166.20" y1="107.70" x2="166.20" y2="109.20" stroke-width="0.6"/>
<text transform="translate(143.00,91.20)" y="2.51" font-size="7" text-anchor="middle">1</text>
<text transform="translate(188.60,45.50)" y="2.43" font-size="6.8" text-anchor="middle">1:16</text>
<ellipse cx="194.1" cy="60.5" rx="2.4" ry="6.6" fill="#000" opacity="0.92" transform="rotate(11 194.1 60.5)" filter="url(#b)"/>
<path d="M193.9 60.0h0.8M192.7 60.0h0.8M196.3 62.7h0.8M191.5 60.2h0.8M195.4 61.5h0.8M194.2 59.7h0.8M189.8 67.3h0.8M192.8 57.8h0.8M192.3 57.0h0.8M194.3 57.2h0.8M194.1 60.0h0.8M191.3 62.4h0.8M189.3 68.4h0.8M190.5 57.7h0.8M191.4 61.0h0.8M193.2 60.2h0.8M197.1 57.6h0.8M193.4 65.0h0.8M192.2 56.2h0.8M192.7 61.8h0.8M193.0 56.7h0.8M192.6 55.2h0.8M198.0 59.5h0.8M192.8 60.5h0.8M196.2 52.7h0.8M190.9 60.4h0.8M195.0 55.3h0.8M194.8 65.4h0.8M193.1 61.5h0.8M193.8 62.0h0.8M194.2 55.1h0.8M192.2 66.6h0.8M192.6 67.3h0.8M193.0 61.2h0.8M192.9 53.9h0.8M195.1 63.6h0.8M194.7 65.1h0.8M192.4 65.4h0.8M196.9 59.4h0.8M191.0 58.8h0.8M192.9 59.4h0.8M191.6 63.4h0.8M194.3 55.4h0.8M192.5 68.0h0.8M194.0 61.3h0.8M196.2 61.9h0.8M188.5 67.2h0.8M192.8 67.0h0.8M194.0 59.0h0.8M190.5 65.1h0.8M195.5 62.8h0.8M193.3 59.9h0.8M191.4 59.6h0.8M193.3 59.3h0.8M192.4 59.1h0.8M195.1 56.8h0.8M192.5 62.0h0.8M190.6 60.1h0.8M191.7 63.0h0.8M191.5 61.5h0.8M195.2 58.0h0.8M195.2 54.7h0.8M192.3 60.2h0.8M196.2 68.2h0.8M190.3 61.9h0.8M196.2 58.1h0.8M191.5 58.0h0.8M193.2 54.8h0.8M192.4 60.6h0.8M191.4 60.6h0.8M194.0 62.1h0.8M196.9 59.8h0.8M193.6 58.9h0.8M194.2 58.7h0.8M194.9 66.7h0.8M194.2 54.1h0.8M197.0 56.7h0.8M196.2 61.6h0.8M195.3 60.2h0.8M195.2 61.6h0.8M195.6 54.2h0.8M193.0 57.2h0.8M194.7 62.2h0.8M193.5 56.2h0.8M192.9 65.9h0.8M196.0 56.4h0.8M195.5 68.5h0.8M194.3 62.3h0.8M193.9 55.4h0.8M192.4 58.9h0.8M193.0 60.8h0.8M197.5 62.1h0.8M194.5 64.1h0.8M190.4 59.3h0.8M195.6 60.0h0.8M198.3 55.7h0.8M195.4 58.9h0.8M191.2 58.9h0.8M197.6 54.9h0.8M195.4 57.8h0.8M193.8 56.6h0.8M191.0 64.9h0.8M196.6 60.5h0.8M196.6 57.5h0.8M196.4 56.7h0.8M196.8 62.6h0.8M190.6 62.2h0.8M190.6 63.7h0.8M197.3 64.1h0.8M192.1 63.4h0.8" stroke="#000" stroke-width="0.8" fill="none" opacity="0.8"/>
<ellipse cx="192.2" cy="69.5" rx="2.3" ry="3.2" fill="#000" opacity="0.97" transform="rotate(25 192.2 69.5)" filter="url(#b)"/>
<ellipse cx="191.5" cy="73.6" rx="4.7" ry="2.9" fill="#000" opacity="1.0" transform="rotate(0 191.5 73.6)" filter="url(#b)"/>
<path d="M190.1 70.4h0.8M190.1 73.6h0.8M189.5 69.4h0.8M192.3 74.1h0.8M196.4 72.9h0.8M195.6 75.0h0.8M192.8 71.9h0.8M188.6 72.8h0.8M197.4 74.6h0.8M186.5 72.6h0.8M190.4 73.4h0.8M195.0 69.8h0.8M194.2 72.1h0.8M195.9 70.3h0.8M195.7 70.0h0.8M190.6 69.7h0.8M187.5 74.1h0.8M192.6 72.2h0.8M189.8 72.9h0.8M192.7 74.3h0.8M188.7 75.6h0.8M192.7 75.1h0.8M195.3 75.8h0.8M189.0 73.5h0.8M193.2 75.7h0.8M193.4 70.8h0.8M192.6 73.5h0.8M192.1 74.8h0.8M192.8 72.4h0.8M194.7 75.0h0.8" stroke="#000" stroke-width="0.8" fill="none" opacity="0.9"/>
<rect x="174.90" y="51.00" width="32.00" height="26.00" fill="none" stroke="#000" stroke-width="1.3"/>
<rect x="187.30" y="52.40" width="13.80" height="16.10" fill="none" stroke="#000" stroke-width="1.15"/>
<line x1="173.40" y1="54.90" x2="174.90" y2="54.90" stroke-width="0.6"/>
<line x1="173.40" y1="61.40" x2="174.90" y2="61.40" stroke-width="0.6"/>
<line x1="173.40" y1="67.90" x2="174.90" y2="67.90" stroke-width="0.6"/>
<line x1="173.40" y1="74.40" x2="174.90" y2="74.40" stroke-width="0.6"/>
<line x1="179.70" y1="77.00" x2="179.70" y2="78.50" stroke-width="0.6"/>
<line x1="187.70" y1="77.00" x2="187.70" y2="78.50" stroke-width="0.6"/>
<line x1="195.70" y1="77.00" x2="195.70" y2="78.50" stroke-width="0.6"/>
<line x1="203.70" y1="77.00" x2="203.70" y2="78.50" stroke-width="0.6"/>
<text transform="translate(180.50,60.60)" y="2.51" font-size="7" text-anchor="middle">17</text>
<ellipse cx="194.4" cy="91.4" rx="1.9" ry="5.4" fill="#000" opacity="0.5" transform="rotate(8 194.4 91.4)" filter="url(#b)"/>
<path d="M191.8 97.9h0.8M194.2 96.5h0.8M194.8 86.8h0.8M192.4 94.9h0.8M193.2 88.2h0.8M195.8 91.7h0.8M191.8 92.8h0.8M194.8 86.2h0.8M193.7 89.3h0.8M197.3 88.7h0.8M191.3 91.7h0.8M192.3 97.1h0.8M196.1 85.6h0.8M193.0 93.5h0.8M195.5 94.5h0.8M194.7 87.5h0.8M195.4 96.8h0.8M193.0 97.5h0.8M189.8 96.0h0.8M194.5 94.4h0.8M193.3 91.0h0.8M195.5 86.5h0.8M192.2 97.0h0.8M192.2 93.7h0.8M191.7 92.5h0.8M193.4 93.1h0.8M192.5 92.8h0.8M194.5 86.2h0.8M196.9 96.0h0.8M196.3 90.0h0.8M194.4 94.7h0.8M196.3 84.6h0.8M197.8 87.1h0.8M194.9 94.9h0.8M195.3 94.1h0.8M197.6 85.8h0.8M193.7 91.7h0.8M192.5 88.3h0.8M195.0 89.5h0.8M192.5 92.3h0.8M193.5 88.7h0.8M197.0 87.5h0.8M196.4 90.2h0.8M197.4 86.3h0.8M195.8 91.3h0.8M192.2 90.9h0.8M192.1 96.7h0.8M192.3 90.8h0.8M193.1 92.3h0.8M194.7 92.6h0.8M191.6 88.4h0.8M195.9 93.3h0.8M191.0 94.5h0.8M194.6 94.1h0.8M194.9 92.6h0.8M195.0 90.0h0.8M192.2 95.5h0.8M195.2 85.1h0.8M192.5 92.3h0.8M193.3 94.0h0.8M191.2 91.8h0.8M192.9 95.4h0.8M192.2 88.2h0.8M193.7 95.3h0.8M197.7 87.9h0.8M194.9 94.8h0.8M195.7 90.9h0.8M197.4 86.0h0.8M195.3 97.7h0.8M193.2 88.2h0.8" stroke="#000" stroke-width="0.8" fill="none" opacity="0.75"/>
<ellipse cx="192.7" cy="104.2" rx="4.7" ry="2.9" fill="#000" opacity="1.0" transform="rotate(0 192.7 104.2)" filter="url(#b)"/>
<path d="M196.7 106.1h0.8M191.1 103.7h0.8M190.8 105.7h0.8M195.3 102.8h0.8M187.2 104.8h0.8M188.3 102.3h0.8M196.1 102.3h0.8M191.3 101.1h0.8M191.5 102.2h0.8M194.9 100.0h0.8M198.1 101.1h0.8M197.9 104.1h0.8M190.5 104.6h0.8M192.2 103.0h0.8M193.2 105.3h0.8M190.8 103.5h0.8M189.6 102.2h0.8M188.8 100.6h0.8M192.9 106.0h0.8M194.1 103.5h0.8M195.2 106.4h0.8M190.5 105.7h0.8M189.6 103.3h0.8M189.4 103.7h0.8M192.0 103.0h0.8M191.6 103.4h0.8M197.9 102.8h0.8M188.7 103.1h0.8M188.3 104.3h0.8M193.0 101.4h0.8M193.9 100.1h0.8M186.0 106.3h0.8M195.0 101.8h0.8" stroke="#000" stroke-width="0.8" fill="none" opacity="0.9"/>
<rect x="174.90" y="81.60" width="32.00" height="26.10" fill="none" stroke="#000" stroke-width="1.3"/>
<rect x="187.30" y="83.30" width="13.80" height="15.10" fill="none" stroke="#000" stroke-width="1.15"/>
<line x1="173.40" y1="85.52" x2="174.90" y2="85.52" stroke-width="0.6"/>
<line x1="173.40" y1="92.04" x2="174.90" y2="92.04" stroke-width="0.6"/>
<line x1="173.40" y1="98.56" x2="174.90" y2="98.56" stroke-width="0.6"/>
<line x1="173.40" y1="105.09" x2="174.90" y2="105.09" stroke-width="0.6"/>
<line x1="179.70" y1="107.70" x2="179.70" y2="109.20" stroke-width="0.6"/>
<line x1="187.70" y1="107.70" x2="187.70" y2="109.20" stroke-width="0.6"/>
<line x1="195.70" y1="107.70" x2="195.70" y2="109.20" stroke-width="0.6"/>
<line x1="203.70" y1="107.70" x2="203.70" y2="109.20" stroke-width="0.6"/>
<text transform="translate(180.50,91.20)" y="2.51" font-size="7" text-anchor="middle">8</text>
<text transform="translate(226.10,45.50)" y="2.43" font-size="6.8" text-anchor="middle">1:4</text>
<ellipse cx="231.6" cy="60.5" rx="2.9" ry="6.6" fill="#000" opacity="0.92" transform="rotate(11 231.6 60.5)" filter="url(#b)"/>
<path d="M229.3 56.3h0.8M234.1 59.5h0.8M232.5 59.8h0.8M231.5 58.9h0.8M232.9 54.1h0.8M231.6 56.4h0.8M233.8 59.5h0.8M228.3 64.2h0.8M235.4 60.4h0.8M229.2 62.9h0.8M230.8 59.9h0.8M230.8 65.0h0.8M227.7 62.3h0.8M228.4 55.6h0.8M231.5 64.6h0.8M227.7 68.3h0.8M232.9 67.4h0.8M233.0 64.7h0.8M231.5 60.7h0.8M233.8 60.7h0.8M232.6 59.7h0.8M227.3 67.5h0.8M233.8 56.9h0.8M231.4 59.2h0.8M230.1 62.5h0.8M227.7 65.8h0.8M232.5 57.3h0.8M233.6 57.4h0.8M233.3 58.6h0.8M230.8 56.7h0.8M232.6 61.0h0.8M232.2 67.0h0.8M231.5 62.7h0.8M229.5 59.9h0.8M227.0 68.3h0.8M230.4 59.9h0.8M231.4 56.7h0.8M231.8 61.2h0.8M230.4 64.6h0.8M233.0 57.4h0.8M228.6 63.7h0.8M230.4 53.2h0.8M233.2 65.6h0.8M232.7 56.2h0.8M234.2 64.5h0.8M231.6 57.3h0.8M234.2 67.3h0.8M233.9 55.0h0.8M231.7 59.1h0.8M231.0 57.3h0.8M233.4 60.5h0.8M231.3 62.5h0.8M231.7 56.9h0.8M232.6 66.4h0.8M231.3 61.8h0.8M234.2 52.7h0.8M228.5 67.8h0.8M228.1 60.5h0.8M229.7 58.1h0.8M231.2 65.9h0.8M232.6 54.8h0.8M229.2 58.2h0.8M230.6 63.3h0.8M230.0 61.0h0.8M231.0 57.8h0.8M234.8 52.8h0.8M231.5 62.4h0.8M231.1 66.0h0.8M229.7 66.7h0.8M228.2 60.5h0.8M230.1 56.2h0.8M232.7 61.7h0.8M230.8 66.1h0.8M233.7 55.7h0.8M234.2 59.8h0.8M231.3 55.0h0.8M229.6 61.4h0.8M232.9 63.0h0.8M231.4 64.5h0.8M230.3 56.3h0.8M235.2 59.9h0.8M232.6 68.1h0.8M233.0 62.2h0.8M234.2 64.4h0.8M226.8 64.6h0.8M231.7 65.1h0.8M233.4 58.3h0.8M231.2 61.9h0.8M233.5 52.4h0.8M230.9 63.2h0.8M234.3 52.9h0.8M231.4 64.0h0.8M230.3 62.5h0.8M233.6 57.3h0.8M232.4 58.8h0.8M231.3 63.9h0.8M233.4 52.7h0.8M229.0 64.1h0.8M233.3 59.4h0.8M233.9 57.6h0.8M229.9 67.0h0.8M231.3 65.2h0.8M231.1 59.5h0.8M235.8 56.4h0.8M228.1 64.7h0.8M228.9 64.5h0.8M236.2 53.3h0.8M235.9 54.4h0.8M233.8 61.5h0.8M234.1 63.0h0.8M232.8 62.2h0.8M234.2 61.7h0.8M234.6 58.6h0.8M230.0 67.7h0.8M229.8 62.6h0.8M232.6 59.1h0.8M229.6 58.9h0.8M232.1 60.4h0.8M233.1 62.1h0.8M229.8 67.3h0.8M231.4 56.8h0.8M233.4 62.6h0.8M232.4 58.7h0.8M233.6 52.8h0.8M230.6 60.0h0.8M233.4 64.8h0.8M236.3 56.7h0.8M231.8 58.9h0.8M233.3 57.7h0.8M231.4 63.2h0.8M231.4 59.5h0.8M234.5 58.6h0.8M231.7 58.0h0.8M229.9 59.5h0.8M228.0 59.4h0.8M232.6 62.5h0.8M235.9 59.1h0.8M233.8 56.6h0.8M229.8 62.8h0.8M234.1 59.3h0.8M232.3 60.8h0.8M230.8 67.2h0.8M231.3 52.5h0.8" stroke="#000" stroke-width="0.8" fill="none" opacity="0.8"/>
<ellipse cx="229.7" cy="69.5" rx="2.3" ry="3.2" fill="#000" opacity="0.97" transform="rotate(25 229.7 69.5)" filter="url(#b)"/>
<ellipse cx="229.0" cy="73.6" rx="4.7" ry="2.9" fill="#000" opacity="1.0" transform="rotate(0 229.0 73.6)" filter="url(#b)"/>
<path d="M228.5 75.2h0.8M230.3 70.8h0.8M226.8 74.4h0.8M227.7 72.6h0.8M230.8 71.2h0.8M230.5 75.4h0.8M233.1 72.0h0.8M231.3 73.0h0.8M231.6 71.2h0.8M234.1 75.0h0.8M230.8 73.4h0.8M232.5 72.0h0.8M233.3 75.1h0.8M224.2 72.4h0.8M228.2 73.1h0.8M231.4 71.6h0.8M230.6 75.5h0.8M230.6 75.8h0.8M226.7 71.1h0.8M231.7 72.5h0.8M229.5 75.4h0.8M225.8 75.6h0.8M234.9 73.0h0.8M233.1 74.3h0.8M225.6 69.5h0.8M235.4 75.6h0.8M225.1 71.9h0.8M225.5 71.0h0.8M227.8 74.6h0.8M226.3 74.9h0.8M228.4 73.8h0.8M232.6 75.1h0.8M232.5 72.5h0.8M228.7 74.6h0.8M231.7 73.9h0.8" stroke="#000" stroke-width="0.8" fill="none" opacity="0.9"/>
<rect x="212.40" y="51.00" width="32.00" height="26.00" fill="none" stroke="#000" stroke-width="1.3"/>
<rect x="224.80" y="52.40" width="13.80" height="16.10" fill="none" stroke="#000" stroke-width="1.15"/>
<line x1="210.90" y1="54.90" x2="212.40" y2="54.90" stroke-width="0.6"/>
<line x1="210.90" y1="61.40" x2="212.40" y2="61.40" stroke-width="0.6"/>
<line x1="210.90" y1="67.90" x2="212.40" y2="67.90" stroke-width="0.6"/>
<line x1="210.90" y1="74.40" x2="212.40" y2="74.40" stroke-width="0.6"/>
<line x1="217.20" y1="77.00" x2="217.20" y2="78.50" stroke-width="0.6"/>
<line x1="225.20" y1="77.00" x2="225.20" y2="78.50" stroke-width="0.6"/>
<line x1="233.20" y1="77.00" x2="233.20" y2="78.50" stroke-width="0.6"/>
<line x1="241.20" y1="77.00" x2="241.20" y2="78.50" stroke-width="0.6"/>
<text transform="translate(218.00,60.60)" y="2.51" font-size="7" text-anchor="middle">31</text>
<ellipse cx="231.6" cy="91.1" rx="2.4" ry="6.6" fill="#000" opacity="0.92" transform="rotate(11 231.6 91.1)" filter="url(#b)"/>
<path d="M230.2 89.6h0.8M230.4 97.1h0.8M233.3 88.3h0.8M233.1 84.1h0.8M231.8 84.7h0.8M234.6 87.7h0.8M228.7 90.3h0.8M236.0 88.1h0.8M228.4 88.6h0.8M234.0 89.1h0.8M227.1 96.7h0.8M230.1 91.5h0.8M231.0 94.0h0.8M232.9 85.2h0.8M230.1 94.7h0.8M229.7 93.8h0.8M232.5 90.9h0.8M234.7 91.8h0.8M232.9 95.6h0.8M231.3 94.5h0.8M235.4 85.7h0.8M230.8 92.2h0.8M234.7 91.0h0.8M228.8 92.5h0.8M229.8 90.3h0.8M229.5 90.2h0.8M236.2 87.0h0.8M226.5 96.1h0.8M231.4 86.5h0.8M228.5 89.3h0.8M226.7 95.3h0.8M232.7 94.4h0.8M230.3 89.4h0.8M231.9 91.4h0.8M234.1 85.3h0.8M230.7 90.6h0.8M230.8 86.5h0.8M229.1 87.6h0.8M231.4 98.3h0.8M231.9 92.1h0.8M236.1 89.4h0.8M231.1 93.5h0.8M232.2 90.6h0.8M231.9 85.8h0.8M233.8 88.2h0.8M230.5 94.0h0.8M227.4 95.8h0.8M235.3 85.6h0.8M230.6 90.5h0.8M233.2 85.4h0.8M232.7 88.5h0.8M233.0 93.1h0.8M230.6 89.6h0.8M231.3 91.3h0.8M230.1 91.9h0.8M230.3 90.0h0.8M232.6 88.4h0.8M229.2 96.6h0.8M231.9 93.9h0.8M233.2 91.7h0.8M233.6 88.5h0.8M232.2 92.5h0.8M228.4 94.0h0.8M232.4 91.6h0.8M235.6 86.6h0.8M229.2 93.3h0.8M231.7 85.5h0.8M230.7 94.3h0.8M233.7 88.2h0.8M232.3 91.6h0.8M228.6 92.4h0.8M229.2 97.3h0.8M232.3 96.5h0.8M231.9 91.3h0.8M230.8 90.9h0.8M227.1 93.2h0.8M235.8 84.1h0.8M226.9 94.9h0.8M231.1 93.3h0.8M229.9 95.7h0.8M229.9 90.1h0.8M231.1 92.0h0.8M231.3 88.0h0.8M233.9 87.6h0.8M228.6 86.3h0.8M235.3 86.6h0.8M233.7 88.7h0.8M229.6 94.6h0.8M232.2 94.7h0.8M229.8 90.9h0.8M228.4 90.8h0.8M230.4 89.8h0.8M232.1 93.2h0.8M234.4 88.1h0.8M230.6 96.8h0.8M233.6 87.6h0.8M233.7 88.4h0.8M236.2 87.6h0.8M231.1 96.3h0.8" stroke="#000" stroke-width="0.8" fill="none" opacity="0.8"/>
<ellipse cx="230.2" cy="104.2" rx="4.7" ry="2.9" fill="#000" opacity="1.0" transform="rotate(0 230.2 104.2)" filter="url(#b)"/>
<path d="M229.5 106.2h0.8M229.3 102.5h0.8M231.7 103.2h0.8M232.5 105.9h0.8M227.6 103.8h0.8M228.5 102.2h0.8M224.0 102.7h0.8M233.7 100.7h0.8M225.0 101.4h0.8M235.9 103.8h0.8M228.1 101.6h0.8M228.0 101.8h0.8M226.0 105.0h0.8M229.2 102.1h0.8M227.2 103.8h0.8M225.7 102.1h0.8M232.3 102.2h0.8M232.7 103.3h0.8M226.7 103.7h0.8M223.6 103.3h0.8M227.3 106.6h0.8M233.3 104.0h0.8M227.3 101.1h0.8M225.6 104.7h0.8M230.1 104.7h0.8M225.6 106.4h0.8M225.4 103.9h0.8M232.0 104.7h0.8M229.1 102.8h0.8M231.3 105.2h0.8M230.6 101.3h0.8M224.8 106.3h0.8M230.9 102.4h0.8" stroke="#000" stroke-width="0.8" fill="none" opacity="0.9"/>
<rect x="212.40" y="81.60" width="32.00" height="26.10" fill="none" stroke="#000" stroke-width="1.3"/>
<rect x="224.80" y="83.30" width="13.80" height="15.10" fill="none" stroke="#000" stroke-width="1.15"/>
<line x1="210.90" y1="85.52" x2="212.40" y2="85.52" stroke-width="0.6"/>
<line x1="210.90" y1="92.04" x2="212.40" y2="92.04" stroke-width="0.6"/>
<line x1="210.90" y1="98.56" x2="212.40" y2="98.56" stroke-width="0.6"/>
<line x1="210.90" y1="105.09" x2="212.40" y2="105.09" stroke-width="0.6"/>
<line x1="217.20" y1="107.70" x2="217.20" y2="109.20" stroke-width="0.6"/>
<line x1="225.20" y1="107.70" x2="225.20" y2="109.20" stroke-width="0.6"/>
<line x1="233.20" y1="107.70" x2="233.20" y2="109.20" stroke-width="0.6"/>
<line x1="241.20" y1="107.70" x2="241.20" y2="109.20" stroke-width="0.6"/>
<text transform="translate(218.00,91.20)" y="2.51" font-size="7" text-anchor="middle">18</text>
<text transform="translate(127.60,63.50) rotate(-90) scale(1.059,1)" y="3.04" font-size="8.5" text-anchor="middle">IFN-γ</text>
<text transform="translate(127.60,93.90) rotate(-90) scale(1.099,1)" y="3.04" font-size="8.5" text-anchor="middle">IL-17</text>
<text transform="translate(191.50,122.00) scale(0.987,1)" y="3.22" font-size="9" text-anchor="middle">CD4 (CFSE<tspan dy="-3.24" font-size="7.38">low</tspan><tspan dy="3.24">)</tspan></text>
<text transform="translate(162.40,143.30) scale(0.953,1)" y="3.15" font-size="8.8" text-anchor="middle">IFN-γ</text>
<text transform="translate(228.80,143.30) scale(1.062,1)" y="3.15" font-size="8.8" text-anchor="middle">IL-17</text>
<line x1="142.00" y1="161.50" x2="142.00" y2="196.35" stroke-width="1.1"/>
<line x1="141.45" y1="195.80" x2="184.50" y2="195.80" stroke-width="1.1"/>
<line x1="139.60" y1="195.80" x2="142.00" y2="195.80" stroke-width="1.1"/>
<text transform="translate(137.60,195.80)" y="2.90" font-size="8.1" text-anchor="end">0</text>
<line x1="139.60" y1="187.95" x2="142.00" y2="187.95" stroke-width="1.1"/>
<text transform="translate(137.60,187.95)" y="2.90" font-size="8.1" text-anchor="end">10</text>
<line x1="139.60" y1="180.10" x2="142.00" y2="180.10" stroke-width="1.1"/>
<text transform="translate(137.60,180.10)" y="2.90" font-size="8.1" text-anchor="end">20</text>
<line x1="139.60" y1="172.25" x2="142.00" y2="172.25" stroke-width="1.1"/>
<text transform="translate(137.60,172.25)" y="2.90" font-size="8.1" text-anchor="end">30</text>
<line x1="139.60" y1="164.40" x2="142.00" y2="164.40" stroke-width="1.1"/>
<text transform="translate(137.60,164.40)" y="2.90" font-size="8.1" text-anchor="end">40</text>
<line x1="147.40" y1="184.81" x2="147.40" y2="181.67" stroke-width="0.9"/>
<line x1="145.66" y1="181.67" x2="149.14" y2="181.67" stroke-width="0.9"/>
<rect x="144.50" y="184.81" width="5.80" height="10.99" fill="#000" stroke="none"/>
<line x1="147.40" y1="195.80" x2="147.40" y2="199.00" stroke-width="1.0"/>
<line x1="155.47" y1="184.42" x2="155.47" y2="183.63" stroke-width="0.9"/>
<line x1="153.73" y1="183.63" x2="157.21" y2="183.63" stroke-width="0.9"/>
<rect x="152.57" y="184.42" width="5.80" height="11.38" fill="#000" stroke="none"/>
<line x1="155.47" y1="195.80" x2="155.47" y2="199.00" stroke-width="1.0"/>
<line x1="163.54" y1="183.24" x2="163.54" y2="181.91" stroke-width="0.9"/>
<line x1="161.80" y1="181.91" x2="165.28" y2="181.91" stroke-width="0.9"/>
<rect x="160.64" y="183.24" width="5.80" height="12.56" fill="#000" stroke="none"/>
<line x1="163.54" y1="195.80" x2="163.54" y2="199.00" stroke-width="1.0"/>
<line x1="171.61" y1="173.82" x2="171.61" y2="172.88" stroke-width="0.9"/>
<line x1="169.87" y1="172.88" x2="173.35" y2="172.88" stroke-width="0.9"/>
<rect x="168.71" y="173.82" width="5.80" height="21.98" fill="#000" stroke="none"/>
<line x1="171.61" y1="195.80" x2="171.61" y2="199.00" stroke-width="1.0"/>
<line x1="179.68" y1="172.25" x2="179.68" y2="169.50" stroke-width="0.9"/>
<line x1="177.94" y1="169.50" x2="181.42" y2="169.50" stroke-width="0.9"/>
<rect x="176.78" y="172.25" width="5.80" height="23.55" fill="#000" stroke="none"/>
<line x1="179.68" y1="195.80" x2="179.68" y2="199.00" stroke-width="1.0"/>
<line x1="144.20" y1="158.80" x2="182.30" y2="158.80" stroke-width="1.0"/>
<text x="178.00" y="159.16" font-size="9.5" text-anchor="middle" font-weight="bold">**</text>
<line x1="162.70" y1="166.40" x2="182.30" y2="166.40" stroke-width="1.0"/>
<text x="178.00" y="166.76" font-size="9.5" text-anchor="middle" font-weight="bold">**</text>
<text transform="translate(119.70,178.60) rotate(-90) scale(0.801,1)" y="3.65" font-size="10.2" text-anchor="middle" class="n">Percent Cells</text>
<line x1="206.70" y1="161.50" x2="206.70" y2="196.35" stroke-width="1.1"/>
<line x1="206.15" y1="195.80" x2="249.00" y2="195.80" stroke-width="1.1"/>
<line x1="204.30" y1="195.80" x2="206.70" y2="195.80" stroke-width="1.1"/>
<text transform="translate(202.50,195.80)" y="2.90" font-size="8.1" text-anchor="end">0</text>
<line x1="204.30" y1="187.80" x2="206.70" y2="187.80" stroke-width="1.1"/>
<text transform="translate(202.50,187.80)" y="2.90" font-size="8.1" text-anchor="end">5</text>
<line x1="204.30" y1="179.80" x2="206.70" y2="179.80" stroke-width="1.1"/>
<text transform="translate(202.50,179.80)" y="2.90" font-size="8.1" text-anchor="end">10</text>
<line x1="204.30" y1="171.80" x2="206.70" y2="171.80" stroke-width="1.1"/>
<text transform="translate(202.50,171.80)" y="2.90" font-size="8.1" text-anchor="end">15</text>
<line x1="204.30" y1="163.80" x2="206.70" y2="163.80" stroke-width="1.1"/>
<text transform="translate(202.50,163.80)" y="2.90" font-size="8.1" text-anchor="end">20</text>
<line x1="212.80" y1="194.20" x2="212.80" y2="193.72" stroke-width="0.9"/>
<line x1="211.06" y1="193.72" x2="214.54" y2="193.72" stroke-width="0.9"/>
<rect x="209.90" y="194.20" width="5.80" height="1.60" fill="#000" stroke="none"/>
<line x1="212.80" y1="195.80" x2="212.80" y2="199.00" stroke-width="1.0"/>
<line x1="220.75" y1="191.00" x2="220.75" y2="190.20" stroke-width="0.9"/>
<line x1="219.01" y1="190.20" x2="222.49" y2="190.20" stroke-width="0.9"/>
<rect x="217.85" y="191.00" width="5.80" height="4.80" fill="#000" stroke="none"/>
<line x1="220.75" y1="195.80" x2="220.75" y2="199.00" stroke-width="1.0"/>
<line x1="228.70" y1="183.80" x2="228.70" y2="180.60" stroke-width="0.9"/>
<line x1="226.96" y1="180.60" x2="230.44" y2="180.60" stroke-width="0.9"/>
<rect x="225.80" y="183.80" width="5.80" height="12.00" fill="#000" stroke="none"/>
<line x1="228.70" y1="195.80" x2="228.70" y2="199.00" stroke-width="1.0"/>
<line x1="236.65" y1="172.60" x2="236.65" y2="170.84" stroke-width="0.9"/>
<line x1="234.91" y1="170.84" x2="238.39" y2="170.84" stroke-width="0.9"/>
<rect x="233.75" y="172.60" width="5.80" height="23.20" fill="#000" stroke="none"/>
<line x1="236.65" y1="195.80" x2="236.65" y2="199.00" stroke-width="1.0"/>
<line x1="244.60" y1="168.60" x2="244.60" y2="166.52" stroke-width="0.9"/>
<line x1="242.86" y1="166.52" x2="246.34" y2="166.52" stroke-width="0.9"/>
<rect x="241.70" y="168.60" width="5.80" height="27.20" fill="#000" stroke="none"/>
<line x1="244.60" y1="195.80" x2="244.60" y2="199.00" stroke-width="1.0"/>
<line x1="212.80" y1="158.00" x2="247.50" y2="158.00" stroke-width="1.0"/>
<text x="239.60" y="157.96" font-size="9.5" text-anchor="middle" font-weight="bold">***</text>
<line x1="228.20" y1="164.30" x2="247.50" y2="164.30" stroke-width="1.0"/>
<text x="241.00" y="164.36" font-size="9.5" text-anchor="middle" font-weight="bold">**</text>
<text transform="translate(147.30,216.20) rotate(-90) scale(0.82,1)" y="2.86" font-size="8" text-anchor="start" class="n">1:64</text>
<text transform="translate(212.80,216.20) rotate(-90) scale(0.82,1)" y="2.86" font-size="8" text-anchor="start" class="n">1:64</text>
<text transform="translate(155.37,216.20) rotate(-90) scale(0.82,1)" y="2.86" font-size="8" text-anchor="start" class="n">1:32</text>
<text transform="translate(220.75,216.20) rotate(-90) scale(0.82,1)" y="2.86" font-size="8" text-anchor="start" class="n">1:32</text>
<text transform="translate(163.44,216.20) rotate(-90) scale(0.82,1)" y="2.86" font-size="8" text-anchor="start" class="n">1:16</text>
<text transform="translate(228.70,216.20) rotate(-90) scale(0.82,1)" y="2.86" font-size="8" text-anchor="start" class="n">1:16</text>
<text transform="translate(171.51,216.20) rotate(-90) scale(0.82,1)" y="2.86" font-size="8" text-anchor="start" class="n">1:8</text>
<text transform="translate(236.65,216.20) rotate(-90) scale(0.82,1)" y="2.86" font-size="8" text-anchor="start" class="n">1:8</text>
<text transform="translate(179.58,216.20) rotate(-90) scale(0.82,1)" y="2.86" font-size="8" text-anchor="start" class="n">1:4</text>
<text transform="translate(244.60,216.20) rotate(-90) scale(0.82,1)" y="2.86" font-size="8" text-anchor="start" class="n">1:4</text>
<line x1="144.20" y1="219.20" x2="247.50" y2="219.20" stroke-width="0.9"/>
<text transform="translate(195.60,227.90) scale(0.819,1)" y="3.72" font-size="10.4" text-anchor="middle" class="n">DC: T cell ratio</text>
<line x1="156.20" y1="307.00" x2="156.20" y2="367.95" stroke-width="1.1"/>
<line x1="155.65" y1="367.40" x2="206.80" y2="367.40" stroke-width="1.1"/>
<line x1="153.70" y1="367.40" x2="156.20" y2="367.40" stroke-width="1.1"/>
<text transform="translate(151.50,367.40)" y="2.69" font-size="7.5" text-anchor="end">0</text>
<line x1="153.70" y1="347.85" x2="156.20" y2="347.85" stroke-width="1.1"/>
<text transform="translate(151.50,347.85)" y="2.69" font-size="7.5" text-anchor="end">10</text>
<line x1="153.70" y1="328.30" x2="156.20" y2="328.30" stroke-width="1.1"/>
<text transform="translate(151.50,328.30)" y="2.69" font-size="7.5" text-anchor="end">20</text>
<line x1="153.70" y1="308.75" x2="156.20" y2="308.75" stroke-width="1.1"/>
<text transform="translate(151.50,308.75)" y="2.69" font-size="7.5" text-anchor="end">30</text>
<line x1="169.00" y1="327.00" x2="169.00" y2="336.80" stroke-width="1.1"/>
<line x1="167.30" y1="327.00" x2="170.70" y2="327.00" stroke-width="1.1"/>
<line x1="167.30" y1="336.80" x2="170.70" y2="336.80" stroke-width="1.1"/>
<line x1="192.90" y1="311.70" x2="192.90" y2="339.10" stroke-width="1.1"/>
<line x1="191.20" y1="311.70" x2="194.60" y2="311.70" stroke-width="1.1"/>
<line x1="191.20" y1="339.10" x2="194.60" y2="339.10" stroke-width="1.1"/>
<line x1="169.00" y1="354.40" x2="169.00" y2="364.20" stroke-width="1.1"/>
<line x1="167.30" y1="354.40" x2="170.70" y2="354.40" stroke-width="1.1"/>
<line x1="167.30" y1="364.20" x2="170.70" y2="364.20" stroke-width="1.1"/>
<line x1="192.90" y1="349.20" x2="192.90" y2="363.60" stroke-width="1.1"/>
<line x1="191.20" y1="349.20" x2="194.60" y2="349.20" stroke-width="1.1"/>
<line x1="191.20" y1="363.60" x2="194.60" y2="363.60" stroke-width="1.1"/>
<line x1="169.00" y1="332.00" x2="192.90" y2="325.60" stroke-width="1.3"/>
<line x1="169.00" y1="359.30" x2="192.90" y2="356.40" stroke-width="1.3"/>
<rect x="166.30" y="329.30" width="5.40" height="5.40" fill="#000" stroke="none"/>
<rect x="190.20" y="322.90" width="5.40" height="5.40" fill="#000" stroke="none"/>
<rect x="166.80" y="357.10" width="4.40" height="4.40" fill="#fff" stroke="#000" stroke-width="1.1"/>
<rect x="190.70" y="354.20" width="4.40" height="4.40" fill="#fff" stroke="#000" stroke-width="1.1"/>
<text transform="translate(202.40,322.70) scale(0.995,1)" y="2.79" font-size="7.8" text-anchor="start">Dll4<tspan dy="-2.81" font-size="5.46">hi</tspan><tspan dy="2.81">DC-</tspan></text>
<text transform="translate(202.40,331.50) scale(0.91,1)" y="2.79" font-size="7.8" text-anchor="start">CD4</text>
<text transform="translate(202.40,357.30) scale(0.989,1)" y="2.79" font-size="7.8" text-anchor="start">CD4 T<tspan dy="1.72" font-size="4.84">N</tspan></text>
<text transform="translate(169.00,376.60)" y="2.72" font-size="7.6" text-anchor="middle">5:1</text>
<text transform="translate(192.90,376.60)" y="2.72" font-size="7.6" text-anchor="middle">10:1</text>
<line x1="159.70" y1="382.40" x2="206.80" y2="382.40" stroke-width="1.0"/>
<text transform="translate(180.60,390.00) scale(0.816,1)" y="3.69" font-size="10.3" text-anchor="middle" class="n">Effector : Target</text>
<text transform="translate(132.80,338.70) rotate(-90) scale(0.823,1)" y="3.79" font-size="10.6" text-anchor="middle" class="n">Cytolytic activity (%)</text>
<text transform="translate(302.70,24.00)" y="3.22" font-size="9" text-anchor="middle">72 ± 6.5</text>
<rect x="286.00" y="30.60" width="33.00" height="26.60" fill="none" stroke="#000" stroke-width="1.3"/>
<path d="M286.0 56.6 L286.3 56.6 L286.7 56.6 L287.0 56.6 L287.3 56.6 L287.7 56.6 L288.0 56.6 L288.3 56.6 L288.7 56.6 L289.0 56.6 L289.3 56.6 L289.7 56.6 L290.0 56.5 L290.3 56.5 L290.7 56.5 L291.0 56.4 L291.3 56.2 L291.7 55.9 L292.0 55.5 L292.3 54.8 L292.7 53.8 L293.0 52.3 L293.3 50.3 L293.7 47.8 L294.0 45.1 L294.3 42.3 L294.7 39.9 L295.0 38.2 L295.3 37.4 L295.7 37.6 L296.0 36.1 L296.3 37.7 L296.7 39.6 L297.0 41.5 L297.3 43.2 L297.7 44.6 L298.0 45.7 L298.3 46.7 L298.7 47.6 L299.0 48.5 L299.3 49.3 L299.7 50.1 L300.0 50.9 L300.3 51.6 L300.7 52.3 L301.0 52.9 L301.3 53.4 L301.7 53.9 L302.0 54.3 L302.3 54.6 L302.7 54.9 L303.0 55.1 L303.3 55.3 L303.7 55.5 L304.0 55.6 L304.3 55.7 L304.7 55.8 L305.0 55.9 L305.3 55.9 L305.7 56.0 L306.0 56.1 L306.3 56.2 L306.7 56.2 L307.0 56.3 L307.3 56.4 L307.7 56.4 L308.0 56.5 L308.3 56.6 L308.7 56.6 L309.0 56.6 L309.3 56.6 L309.7 56.6 L310.0 56.6 L310.3 56.6 L310.7 56.5 L311.0 56.3 L311.3 55.8 L311.7 54.3 L312.0 51.5 L312.3 46.8 L312.7 41.0 L313.0 35.6 L313.3 32.9 L313.7 34.1 L314.0 38.7 L314.3 44.6 L314.7 49.8 L315.0 53.4 L315.3 55.3 L315.7 56.2 L316.0 56.5 L316.3 56.6 L316.7 56.6 L317.0 56.6 L317.3 56.6 L317.7 56.6 L318.0 56.6 L318.3 56.6 L318.7 56.6 L319.0 56.6" fill="none" stroke="#000" stroke-width="1.2" stroke-linejoin="round"/>
<line x1="290.00" y1="36.00" x2="309.70" y2="36.00" stroke-width="1.4"/>
<circle cx="290.0" cy="36.0" r="1.1"/><circle cx="309.7" cy="36.0" r="1.1"/>
<text transform="translate(303.00,69.80)" y="3.22" font-size="9" text-anchor="middle">35 ± 4.3*</text>
<rect x="286.00" y="78.00" width="33.00" height="25.20" fill="none" stroke="#000" stroke-width="1.3"/>
<path d="M286.0 102.6 L286.3 102.6 L286.7 102.6 L287.0 102.6 L287.3 102.6 L287.7 102.6 L288.0 102.6 L288.3 102.6 L288.7 102.6 L289.0 102.6 L289.3 102.6 L289.7 102.6 L290.0 102.6 L290.3 102.6 L290.7 102.6 L291.0 102.6 L291.3 102.6 L291.7 102.5 L292.0 101.6 L292.3 101.6 L292.7 101.5 L293.0 101.5 L293.3 101.4 L293.7 101.4 L294.0 101.3 L294.3 101.2 L294.7 101.0 L295.0 100.9 L295.3 100.7 L295.7 100.5 L296.0 100.3 L296.3 100.1 L296.7 99.8 L297.0 99.6 L297.3 99.4 L297.7 99.2 L298.0 99.1 L298.3 99.0 L298.7 98.9 L299.0 98.9 L299.3 99.0 L299.7 99.1 L300.0 99.2 L300.3 99.4 L300.7 99.6 L301.0 99.8 L301.3 100.1 L301.7 100.3 L302.0 100.6 L302.3 100.8 L302.7 101.1 L303.0 101.3 L303.3 101.5 L303.7 101.6 L304.0 101.8 L304.3 101.9 L304.7 102.0 L305.0 102.0 L305.3 102.0 L305.7 102.0 L306.0 102.0 L306.3 101.8 L306.7 101.7 L307.0 101.4 L307.3 101.1 L307.7 100.7 L308.0 100.3 L308.3 99.9 L308.7 99.6 L309.0 99.4 L309.3 99.2 L309.7 99.2 L310.0 99.4 L310.3 99.6 L310.7 99.8 L311.0 99.8 L311.3 99.3 L311.7 97.8 L312.0 94.9 L312.3 90.8 L312.7 86.0 L313.0 82.0 L313.3 80.1 L313.7 81.0 L314.0 84.6 L314.3 89.5 L314.7 94.3 L315.0 98.0 L315.3 100.4 L315.7 101.7 L316.0 102.3 L316.3 102.5 L316.7 102.6 L317.0 102.6 L317.3 102.6 L317.7 102.6 L318.0 102.6 L318.3 102.6 L318.7 102.6 L319.0 102.6" fill="none" stroke="#000" stroke-width="1.2" stroke-linejoin="round"/>
<line x1="290.00" y1="81.50" x2="309.70" y2="81.50" stroke-width="1.4"/>
<circle cx="290.0" cy="81.5" r="1.1"/><circle cx="309.7" cy="81.5" r="1.1"/>
<text transform="translate(302.80,108.40) scale(0.977,1)" y="2.72" font-size="7.6" text-anchor="middle">CFSE</text>
<text transform="translate(272.20,44.40) rotate(-90) scale(0.93,1)" y="2.72" font-size="7.6" text-anchor="middle">Dll4<tspan dy="-2.74" font-size="5.32">hi</tspan><tspan dy="2.74">DC-</tspan></text>
<text transform="translate(281.80,48.20) rotate(-90) scale(0.914,1)" y="2.72" font-size="7.6" text-anchor="middle">CD4</text>
<text transform="translate(272.20,92.40) rotate(-90) scale(0.955,1)" y="2.72" font-size="7.6" text-anchor="middle">GM-DC-</text>
<text transform="translate(281.80,92.40) rotate(-90) scale(0.921,1)" y="2.72" font-size="7.6" text-anchor="middle">CD4</text>
<line x1="299.20" y1="139.50" x2="299.20" y2="179.25" stroke-width="1.1"/>
<line x1="298.65" y1="178.70" x2="342.50" y2="178.70" stroke-width="1.1"/>
<line x1="296.70" y1="178.70" x2="299.20" y2="178.70" stroke-width="1.1"/>
<text transform="translate(295.00,178.70)" y="2.69" font-size="7.5" text-anchor="end">0</text>
<line x1="296.70" y1="160.60" x2="299.20" y2="160.60" stroke-width="1.1"/>
<text transform="translate(295.00,160.60)" y="2.69" font-size="7.5" text-anchor="end">2</text>
<line x1="296.70" y1="142.50" x2="299.20" y2="142.50" stroke-width="1.1"/>
<text transform="translate(295.00,142.50)" y="2.69" font-size="7.5" text-anchor="end">4</text>
<line x1="311.20" y1="158.34" x2="311.20" y2="153.36" stroke-width="0.9"/>
<line x1="309.45" y1="153.36" x2="312.95" y2="153.36" stroke-width="0.9"/>
<rect x="307.70" y="158.34" width="7.00" height="20.36" fill="#000" stroke="none"/>
<line x1="332.80" y1="171.91" x2="332.80" y2="170.37" stroke-width="0.9"/>
<line x1="331.30" y1="170.37" x2="334.30" y2="170.37" stroke-width="0.9"/>
<rect x="329.00" y="171.91" width="7.60" height="6.79" fill="#d4d4d4" stroke="none"/>
<text x="311.30" y="152.86" font-size="9.5" text-anchor="middle" font-weight="bold">***</text>
<text transform="translate(311.00,187.00) scale(1.001,1)" y="2.79" font-size="7.8" text-anchor="middle">Dll4<tspan dy="-2.81" font-size="5.46">hi</tspan></text>
<text transform="translate(310.00,195.60)" y="2.79" font-size="7.8" text-anchor="middle">DC</text>
<text transform="translate(332.80,187.00)" y="2.79" font-size="7.8" text-anchor="middle">GM-</text>
<text transform="translate(332.00,195.60)" y="2.79" font-size="7.8" text-anchor="middle">DC</text>
<text transform="translate(269.40,160.10) rotate(-90) scale(0.831,1)" y="3.72" font-size="10.4" text-anchor="middle" class="n">Recovery rate</text>
<text transform="translate(280.00,160.00) rotate(-90) scale(0.835,1)" y="3.72" font-size="10.4" text-anchor="middle" class="n">(output / input)</text>
<text transform="translate(372.00,29.90) scale(0.989,1)" y="3.04" font-size="8.5" text-anchor="middle">Dll4<tspan dy="-3.06" font-size="5.95">hi</tspan><tspan dy="3.06">DC-</tspan></text>
<text transform="translate(371.50,39.80) scale(0.941,1)" y="3.04" font-size="8.5" text-anchor="middle">CD4</text>
<text transform="translate(408.80,29.90) scale(0.901,1)" y="3.04" font-size="8.5" text-anchor="middle">GM-DC-</text>
<text transform="translate(407.50,39.80) scale(0.941,1)" y="3.04" font-size="8.5" text-anchor="middle">CD4</text>
<ellipse cx="372.3" cy="60.7" rx="2.8" ry="7.5" fill="#000" opacity="0.65" transform="rotate(0 372.3 60.7)" filter="url(#b2)"/>
<ellipse cx="372.4" cy="62.7" rx="2.3" ry="4.0" fill="#000" opacity="1" transform="rotate(0 372.4 62.7)" filter="url(#b2)"/>
<ellipse cx="372.4" cy="54.2" rx="2.0" ry="3.4" fill="#000" opacity="0.45" transform="rotate(0 372.4 54.2)" filter="url(#b2)"/>
<path d="M371.5 57.2h0.8M374.6 62.1h0.8M375.6 61.4h0.8M373.5 52.4h0.8M368.4 62.5h0.8M368.1 67.1h0.8M375.7 52.2h0.8M375.8 62.3h0.8M369.4 66.5h0.8M376.0 62.9h0.8M372.5 59.3h0.8M374.2 57.6h0.8M370.8 57.2h0.8M369.9 53.4h0.8M373.5 61.4h0.8M369.6 58.1h0.8M373.2 62.1h0.8M371.0 67.2h0.8M373.6 57.9h0.8M372.2 68.6h0.8M369.9 59.8h0.8M374.8 58.1h0.8M375.2 64.9h0.8M374.5 51.1h0.8M373.9 55.1h0.8M370.0 59.7h0.8M372.6 67.3h0.8M371.2 67.4h0.8M371.0 57.7h0.8M374.7 54.8h0.8M372.2 58.0h0.8M371.4 52.7h0.8M370.5 60.8h0.8M374.6 62.4h0.8M376.2 57.9h0.8M370.6 58.3h0.8M373.0 57.7h0.8M371.1 63.5h0.8M373.4 55.8h0.8M369.5 64.8h0.8M375.5 56.5h0.8M373.6 64.6h0.8M375.3 54.0h0.8M370.2 57.7h0.8M375.9 52.2h0.8M369.9 61.3h0.8M370.1 61.2h0.8M370.6 61.3h0.8M371.0 53.6h0.8M372.2 65.7h0.8M369.0 64.0h0.8M374.9 54.4h0.8M369.2 62.7h0.8M373.9 64.9h0.8M374.7 61.5h0.8M374.3 63.6h0.8M371.2 60.1h0.8M375.6 64.2h0.8M369.3 53.7h0.8M371.8 60.0h0.8M374.3 64.7h0.8M370.4 61.3h0.8M372.7 65.3h0.8M371.6 53.6h0.8M375.3 67.6h0.8M375.2 58.1h0.8M374.7 65.3h0.8M373.1 61.8h0.8M372.1 55.6h0.8M370.4 60.9h0.8M372.7 58.6h0.8M375.1 61.4h0.8M371.3 54.5h0.8M371.3 61.7h0.8M371.1 62.1h0.8M371.7 66.8h0.8M374.3 53.9h0.8M372.0 69.5h0.8M375.0 60.6h0.8M371.9 68.6h0.8M374.1 51.6h0.8M373.5 65.8h0.8M370.2 60.7h0.8M368.4 53.6h0.8M373.1 65.7h0.8M373.3 64.0h0.8M370.9 68.2h0.8M369.2 65.8h0.8M371.2 66.9h0.8M370.6 60.1h0.8" stroke="#000" stroke-width="0.8" fill="none" opacity="0.6"/>
<rect x="356.10" y="47.20" width="30.40" height="26.30" fill="none" stroke="#000" stroke-width="1.3"/>
<rect x="366.40" y="48.10" width="11.20" height="10.70" fill="none" stroke="#000" stroke-width="1.15"/>
<text transform="translate(360.80,53.20)" y="2.33" font-size="6.5" text-anchor="middle">33</text>
<ellipse cx="407.0" cy="67.2" rx="2.6" ry="4.2" fill="#000" opacity="0.9" transform="rotate(0 407.0 67.2)" filter="url(#b2)"/>
<ellipse cx="407.0" cy="68.0" rx="1.8" ry="2.6" fill="#000" opacity="0.8" transform="rotate(0 407.0 68.0)" filter="url(#b)"/>
<path d="M406.9 68.1h0.8M405.1 63.4h0.8M404.6 69.0h0.8M404.4 66.7h0.8M408.5 67.9h0.8M408.2 70.3h0.8M406.2 62.7h0.8M408.2 66.5h0.8M408.6 64.0h0.8M407.2 63.6h0.8M404.0 66.2h0.8M407.1 69.9h0.8M406.9 66.6h0.8M404.7 61.1h0.8M405.5 69.8h0.8M404.3 68.4h0.8M405.8 63.2h0.8M402.7 70.1h0.8M408.1 65.6h0.8M407.0 66.7h0.8M407.8 69.1h0.8M408.7 62.6h0.8M406.1 63.4h0.8M410.8 71.5h0.8M405.0 67.8h0.8M411.4 63.5h0.8M403.4 67.4h0.8M408.5 71.9h0.8M408.1 71.0h0.8M406.6 63.5h0.8M411.0 65.6h0.8M406.8 63.8h0.8M406.8 66.0h0.8M403.8 62.5h0.8M406.5 67.4h0.8M404.3 67.0h0.8M404.5 66.2h0.8M407.9 62.5h0.8M408.5 68.5h0.8M406.0 66.1h0.8M410.3 71.3h0.8M404.2 63.9h0.8M407.9 67.6h0.8M404.8 62.9h0.8M409.6 67.1h0.8M410.8 64.6h0.8M406.4 71.3h0.8M404.7 66.4h0.8M404.3 67.7h0.8M407.2 60.7h0.8M409.9 61.4h0.8M409.6 70.9h0.8M410.0 68.6h0.8M409.3 67.2h0.8M409.1 67.9h0.8M405.3 62.5h0.8M409.2 62.6h0.8M405.0 68.1h0.8M405.5 62.6h0.8M406.7 69.4h0.8" stroke="#000" stroke-width="0.8" fill="none" opacity="0.6"/>
<ellipse cx="407.5" cy="54.2" rx="2.2" ry="3.0" fill="#000" opacity="0.15" transform="rotate(0 407.5 54.2)" filter="url(#b2)"/>
<path d="M406.0 53.5h0.8M411.1 53.9h0.8M406.7 52.1h0.8M405.0 56.4h0.8M404.7 57.5h0.8M405.3 55.9h0.8M406.2 57.0h0.8M407.6 52.0h0.8M406.5 54.2h0.8M410.8 52.2h0.8M405.0 55.2h0.8M406.9 52.6h0.8M411.1 55.7h0.8M407.8 52.6h0.8" stroke="#000" stroke-width="0.8" fill="none" opacity="0.35"/>
<rect x="392.00" y="47.20" width="30.40" height="26.30" fill="none" stroke="#000" stroke-width="1.3"/>
<rect x="402.30" y="48.10" width="11.20" height="10.70" fill="none" stroke="#000" stroke-width="1.15"/>
<text transform="translate(396.70,53.20)" y="2.33" font-size="6.5" text-anchor="middle">6</text>
<ellipse cx="371.9" cy="91.0" rx="3.8" ry="6.0" fill="#000" opacity="0.65" transform="rotate(0 371.9 91.0)" filter="url(#b2)"/>
<ellipse cx="371.7" cy="92.0" rx="3.1" ry="3.3" fill="#000" opacity="1" transform="rotate(0 371.7 92.0)" filter="url(#b2)"/>
<ellipse cx="372.5" cy="84.8" rx="1.6" ry="1.6" fill="#000" opacity="0.7" transform="rotate(0 372.5 84.8)" filter="url(#b)"/>
<path d="M372.4 88.5h0.8M373.2 87.3h0.8M370.6 95.9h0.8M372.3 89.0h0.8M367.3 84.4h0.8M368.9 88.9h0.8M370.3 97.5h0.8M371.5 88.2h0.8M371.9 86.9h0.8M369.4 91.4h0.8M371.2 89.7h0.8M374.6 93.9h0.8M371.5 94.4h0.8M371.2 94.2h0.8M373.3 95.9h0.8M376.1 88.6h0.8M368.6 83.5h0.8M371.5 86.8h0.8M367.8 84.8h0.8M369.3 91.1h0.8M368.0 94.1h0.8M372.3 96.6h0.8M368.1 95.5h0.8M375.7 95.9h0.8M369.0 88.6h0.8M372.8 88.8h0.8M371.2 97.5h0.8M373.2 89.0h0.8M370.3 89.3h0.8M374.8 89.6h0.8M372.7 90.2h0.8M371.3 89.3h0.8M376.2 89.0h0.8M377.0 91.6h0.8M375.6 89.7h0.8M370.5 84.1h0.8M369.8 90.3h0.8M368.8 90.0h0.8M369.6 89.8h0.8M370.9 90.5h0.8M370.5 85.9h0.8M367.6 90.7h0.8M376.2 91.0h0.8M373.8 89.5h0.8M369.2 93.4h0.8M368.4 96.6h0.8M376.9 87.3h0.8M372.4 95.8h0.8M369.1 84.6h0.8M368.9 85.7h0.8M371.3 92.3h0.8M373.5 89.1h0.8M372.8 90.9h0.8M374.4 90.7h0.8M367.5 84.3h0.8M372.2 89.7h0.8M371.9 92.2h0.8M373.6 93.9h0.8M370.3 86.4h0.8M372.4 94.1h0.8M376.4 90.0h0.8M371.4 86.4h0.8M368.6 88.2h0.8M372.8 91.4h0.8M371.8 92.8h0.8M372.5 95.8h0.8M372.3 86.5h0.8M371.6 97.2h0.8M371.7 96.1h0.8M374.2 91.8h0.8M374.8 89.2h0.8M366.9 89.5h0.8M367.8 91.9h0.8M374.6 97.4h0.8M374.3 90.6h0.8M369.7 97.6h0.8M366.4 93.6h0.8M373.1 88.6h0.8M366.1 92.5h0.8M377.0 86.2h0.8M373.8 87.8h0.8M368.8 84.2h0.8M375.9 91.8h0.8M371.0 91.0h0.8M373.5 91.7h0.8M373.8 89.2h0.8M367.6 87.9h0.8M376.1 95.1h0.8M371.2 93.3h0.8M375.8 95.1h0.8" stroke="#000" stroke-width="0.8" fill="none" opacity="0.6"/>
<rect x="356.10" y="76.50" width="30.40" height="26.10" fill="none" stroke="#000" stroke-width="1.3"/>
<rect x="366.40" y="77.40" width="11.20" height="10.70" fill="none" stroke="#000" stroke-width="1.15"/>
<text transform="translate(360.80,82.50)" y="2.33" font-size="6.5" text-anchor="middle">20</text>
<ellipse cx="408.2" cy="98.3" rx="3.4" ry="3.2" fill="#000" opacity="0.95" transform="rotate(0 408.2 98.3)" filter="url(#b2)"/>
<ellipse cx="408.2" cy="98.8" rx="2.4" ry="2.2" fill="#000" opacity="0.9" transform="rotate(0 408.2 98.8)" filter="url(#b)"/>
<path d="M404.7 100.8h0.8M407.1 100.3h0.8M409.4 95.9h0.8M410.0 95.9h0.8M407.6 97.9h0.8M407.5 97.8h0.8M411.0 98.9h0.8M404.2 99.7h0.8M408.5 96.0h0.8M409.4 93.1h0.8M408.4 96.6h0.8M406.2 98.3h0.8M409.7 95.3h0.8M405.8 99.4h0.8M410.5 95.9h0.8M409.3 92.8h0.8M405.3 99.0h0.8M408.9 99.8h0.8M408.5 96.9h0.8M410.0 93.8h0.8M410.6 97.6h0.8M409.3 97.6h0.8M408.2 92.3h0.8M408.6 95.0h0.8M408.5 99.7h0.8M408.8 99.4h0.8M406.1 94.7h0.8M409.0 92.6h0.8M410.9 95.8h0.8M405.4 100.1h0.8M410.2 93.5h0.8M408.9 94.2h0.8M407.0 99.0h0.8M409.6 94.5h0.8M407.7 95.7h0.8M410.1 96.5h0.8M405.9 96.6h0.8M407.3 95.4h0.8M407.4 99.5h0.8M411.0 101.0h0.8M411.6 94.7h0.8M405.1 97.1h0.8M411.9 96.7h0.8M407.7 97.0h0.8M405.8 101.2h0.8M411.4 94.4h0.8M403.6 99.0h0.8M410.7 97.5h0.8" stroke="#000" stroke-width="0.8" fill="none" opacity="0.6"/>
<ellipse cx="408.0" cy="83.5" rx="2.0" ry="2.8" fill="#000" opacity="0.12" transform="rotate(0 408.0 83.5)" filter="url(#b2)"/>
<path d="M407.1 84.0h0.8M408.5 85.0h0.8M409.9 82.1h0.8M407.9 79.2h0.8M407.9 80.9h0.8M405.5 81.7h0.8M406.9 84.7h0.8M408.0 81.4h0.8M409.4 85.3h0.8M404.6 87.6h0.8M406.4 83.5h0.8M407.0 78.9h0.8" stroke="#000" stroke-width="0.8" fill="none" opacity="0.3"/>
<rect x="392.00" y="76.50" width="30.40" height="26.10" fill="none" stroke="#000" stroke-width="1.3"/>
<rect x="402.30" y="77.40" width="11.20" height="10.70" fill="none" stroke="#000" stroke-width="1.15"/>
<text transform="translate(396.70,82.50)" y="2.33" font-size="6.5" text-anchor="middle">4</text>
<ellipse cx="371.7" cy="119.5" rx="2.8" ry="7.5" fill="#000" opacity="0.5" transform="rotate(0 371.7 119.5)" filter="url(#b2)"/>
<ellipse cx="371.7" cy="122.0" rx="1.9" ry="4.5" fill="#000" opacity="0.7" transform="rotate(0 371.7 122.0)" filter="url(#b2)"/>
<ellipse cx="371.7" cy="129.2" rx="2.2" ry="0.9" fill="#000" opacity="0.8" transform="rotate(0 371.7 129.2)" filter="url(#b)"/>
<path d="M370.2 120.6h0.8M369.7 121.3h0.8M374.8 120.0h0.8M369.2 120.4h0.8M367.3 127.6h0.8M375.1 111.8h0.8M375.2 116.2h0.8M373.2 122.7h0.8M373.3 116.1h0.8M372.1 127.3h0.8M370.8 117.5h0.8M370.8 119.2h0.8M368.4 125.8h0.8M369.1 122.0h0.8M369.4 115.4h0.8M373.3 115.7h0.8M371.9 122.7h0.8M369.9 120.6h0.8M368.0 114.1h0.8M368.8 117.2h0.8M373.6 117.7h0.8M375.2 122.5h0.8M368.8 114.4h0.8M370.6 123.4h0.8M370.6 126.8h0.8M370.7 128.7h0.8M373.5 117.3h0.8M371.3 113.2h0.8M368.8 121.9h0.8M371.6 118.1h0.8M372.8 115.3h0.8M371.8 126.4h0.8M372.5 124.4h0.8M369.7 120.3h0.8M375.2 124.8h0.8M369.4 117.0h0.8M372.0 122.4h0.8M373.0 125.7h0.8M368.1 118.8h0.8M372.0 122.9h0.8M367.8 112.5h0.8M370.6 122.9h0.8M370.0 114.7h0.8M371.8 118.9h0.8M373.6 117.6h0.8M371.1 125.1h0.8M371.4 128.2h0.8M372.1 114.7h0.8M370.9 111.6h0.8M370.6 113.7h0.8M372.7 120.6h0.8M371.1 120.9h0.8M372.6 123.4h0.8M369.1 117.5h0.8M373.7 123.5h0.8M369.8 111.4h0.8M373.9 113.0h0.8M368.4 116.3h0.8M372.9 127.8h0.8M372.3 120.8h0.8M371.8 118.5h0.8M372.8 124.4h0.8M371.9 117.0h0.8M368.3 116.4h0.8M368.7 120.1h0.8M373.2 122.9h0.8M369.0 121.5h0.8M367.3 119.2h0.8M371.5 126.3h0.8M369.0 117.9h0.8M373.8 115.6h0.8M372.4 114.9h0.8M369.8 115.5h0.8M375.9 116.4h0.8M372.5 113.5h0.8M369.7 123.9h0.8M375.6 111.1h0.8M368.5 118.1h0.8M371.6 124.3h0.8M370.7 114.9h0.8M368.5 114.9h0.8M373.2 112.1h0.8M376.1 120.9h0.8M369.5 115.8h0.8M374.4 126.8h0.8M371.9 120.1h0.8M370.3 115.3h0.8M373.6 117.0h0.8M373.0 126.3h0.8M369.0 124.0h0.8M370.7 124.1h0.8M371.6 110.4h0.8M371.7 112.3h0.8M368.7 128.1h0.8M373.1 116.9h0.8M372.1 119.3h0.8M370.8 114.7h0.8M375.0 118.4h0.8M371.2 113.2h0.8M374.9 123.3h0.8M369.3 125.9h0.8M370.4 117.1h0.8M369.4 121.0h0.8M370.2 115.7h0.8M369.1 113.7h0.8M373.7 126.9h0.8M370.3 121.6h0.8M372.9 111.6h0.8M371.3 114.8h0.8M371.1 124.6h0.8" stroke="#000" stroke-width="0.8" fill="none" opacity="0.6"/>
<rect x="356.10" y="106.00" width="30.40" height="24.70" fill="none" stroke="#000" stroke-width="1.3"/>
<rect x="364.90" y="108.70" width="14.20" height="16.90" fill="none" stroke="#000" stroke-width="1.15"/>
<text transform="translate(360.80,115.60)" y="2.33" font-size="6.5" text-anchor="middle">46</text>
<ellipse cx="408.2" cy="119.5" rx="2.8" ry="7.5" fill="#000" opacity="0.5" transform="rotate(0 408.2 119.5)" filter="url(#b2)"/>
<ellipse cx="408.2" cy="122.0" rx="1.9" ry="4.5" fill="#000" opacity="0.7" transform="rotate(0 408.2 122.0)" filter="url(#b2)"/>
<ellipse cx="408.2" cy="129.2" rx="2.2" ry="0.9" fill="#000" opacity="0.8" transform="rotate(0 408.2 129.2)" filter="url(#b)"/>
<path d="M405.5 119.2h0.8M409.5 125.2h0.8M412.4 123.3h0.8M408.2 110.3h0.8M409.0 122.9h0.8M409.4 121.1h0.8M407.9 110.8h0.8M408.0 125.8h0.8M410.4 118.3h0.8M412.1 121.6h0.8M406.0 117.9h0.8M406.9 122.3h0.8M408.6 114.8h0.8M405.0 123.1h0.8M410.0 116.3h0.8M408.8 119.2h0.8M412.1 127.0h0.8M410.6 116.3h0.8M411.6 123.8h0.8M409.4 115.3h0.8M407.7 124.0h0.8M412.1 115.8h0.8M408.6 112.0h0.8M408.8 124.7h0.8M412.0 128.2h0.8M410.1 122.0h0.8M407.3 112.5h0.8M408.6 120.9h0.8M405.2 110.6h0.8M408.7 121.9h0.8M408.7 127.9h0.8M410.1 121.5h0.8M404.7 115.3h0.8M410.8 116.8h0.8M411.4 117.8h0.8M410.1 116.3h0.8M410.4 119.5h0.8M408.7 119.4h0.8M411.4 116.8h0.8M409.5 119.2h0.8M405.8 123.0h0.8M408.0 114.8h0.8M405.4 126.5h0.8M405.5 113.7h0.8M405.3 117.2h0.8M409.5 114.8h0.8M408.1 113.3h0.8M407.6 112.8h0.8M408.3 122.3h0.8M408.0 120.7h0.8M409.2 120.8h0.8M407.8 112.2h0.8M411.6 123.0h0.8M406.6 111.8h0.8M408.1 111.8h0.8M405.6 113.4h0.8M412.5 123.7h0.8M409.9 114.3h0.8M411.4 121.4h0.8M406.0 118.3h0.8M410.2 119.1h0.8M409.2 114.4h0.8M408.6 119.4h0.8M409.7 119.5h0.8M407.4 123.9h0.8M405.8 117.5h0.8M409.9 110.9h0.8M406.3 113.4h0.8M410.8 122.3h0.8M405.9 126.2h0.8M411.0 120.7h0.8M407.6 114.7h0.8M406.5 112.6h0.8M408.4 123.4h0.8M406.7 117.4h0.8M410.1 127.9h0.8M407.1 112.5h0.8M406.9 118.6h0.8M409.8 116.2h0.8M408.2 111.4h0.8M409.2 117.6h0.8M409.5 121.8h0.8M408.5 122.7h0.8M407.3 121.8h0.8M409.0 123.3h0.8M405.8 116.4h0.8M408.9 113.8h0.8M405.8 118.8h0.8M409.1 117.4h0.8M407.8 115.7h0.8M408.4 116.1h0.8M410.3 119.8h0.8M406.3 126.7h0.8M408.9 122.7h0.8M410.3 119.9h0.8M404.9 124.3h0.8M407.7 127.6h0.8M406.4 115.7h0.8M405.2 118.2h0.8M409.3 125.5h0.8M410.3 114.4h0.8M408.4 120.7h0.8M407.9 124.8h0.8M409.5 118.0h0.8M409.5 112.8h0.8M408.2 125.4h0.8M407.4 115.8h0.8M412.1 122.8h0.8M409.8 124.7h0.8M409.2 120.2h0.8" stroke="#000" stroke-width="0.8" fill="none" opacity="0.6"/>
<rect x="392.00" y="106.00" width="30.40" height="24.70" fill="none" stroke="#000" stroke-width="1.3"/>
<rect x="400.80" y="108.70" width="14.20" height="16.90" fill="none" stroke="#000" stroke-width="1.15"/>
<text transform="translate(396.70,115.60)" y="2.33" font-size="6.5" text-anchor="middle">59</text>
<line x1="355.60" y1="133.50" x2="422.30" y2="133.50" stroke-width="1.05"/>
<text transform="translate(388.60,142.00) scale(0.924,1)" y="3.22" font-size="9" text-anchor="middle">CD4 (CFSE<tspan dy="-3.24" font-size="7.65">low</tspan><tspan dy="3.24">)</tspan></text>
<text transform="translate(350.60,59.70) rotate(-90) scale(1.125,1)" y="2.86" font-size="8" text-anchor="middle">IFN-γ</text>
<text transform="translate(350.60,90.90) rotate(-90) scale(1.097,1)" y="2.86" font-size="8" text-anchor="middle">IL-17</text>
<text transform="translate(350.60,119.90) rotate(-90) scale(0.928,1)" y="2.86" font-size="8" text-anchor="middle">TNF-α</text>
<text transform="translate(434.60,88.00) rotate(-90) scale(0.955,1)" y="3.33" font-size="9.3" text-anchor="middle">Percent cell</text>
<text transform="translate(462.70,39.60) scale(0.958,1)" y="3.15" font-size="8.8" text-anchor="middle">IFN-γ</text>
<line x1="452.20" y1="44.00" x2="473.20" y2="44.00" stroke-width="0.9"/>
<line x1="452.80" y1="49.50" x2="452.80" y2="77.55" stroke-width="1.1"/>
<line x1="452.25" y1="77.00" x2="470.80" y2="77.00" stroke-width="1.1"/>
<line x1="450.00" y1="77.00" x2="452.80" y2="77.00" stroke-width="1.1"/>
<text transform="translate(448.80,77.00)" y="2.43" font-size="6.8" text-anchor="end">0</text>
<line x1="450.00" y1="70.75" x2="452.80" y2="70.75" stroke-width="1.1"/>
<text transform="translate(448.80,70.75)" y="2.43" font-size="6.8" text-anchor="end">10</text>
<line x1="450.00" y1="64.50" x2="452.80" y2="64.50" stroke-width="1.1"/>
<text transform="translate(448.80,64.50)" y="2.43" font-size="6.8" text-anchor="end">20</text>
<line x1="450.00" y1="58.25" x2="452.80" y2="58.25" stroke-width="1.1"/>
<text transform="translate(448.80,58.25)" y="2.43" font-size="6.8" text-anchor="end">30</text>
<line x1="450.00" y1="52.00" x2="452.80" y2="52.00" stroke-width="1.1"/>
<text transform="translate(448.80,52.00)" y="2.43" font-size="6.8" text-anchor="end">40</text>
<line x1="458.00" y1="59.50" x2="458.00" y2="56.38" stroke-width="1.2"/>
<line x1="456.20" y1="56.38" x2="459.80" y2="56.38" stroke-width="1.2"/>
<rect x="455.00" y="59.50" width="6.00" height="17.50" fill="#000" stroke="none"/>
<line x1="467.10" y1="74.50" x2="467.10" y2="72.62" stroke-width="1.2"/>
<line x1="465.30" y1="72.62" x2="468.90" y2="72.62" stroke-width="1.2"/>
<rect x="464.20" y="74.50" width="5.80" height="2.50" fill="#d8d8d8" stroke="none"/>
<line x1="458.00" y1="77.00" x2="458.00" y2="79.20" stroke-width="1.0"/>
<line x1="467.10" y1="77.00" x2="467.10" y2="79.20" stroke-width="1.0"/>
<line x1="456.70" y1="53.90" x2="468.40" y2="53.90" stroke-width="1.1"/>
<text x="462.60" y="53.16" font-size="9.5" text-anchor="middle" font-weight="bold">***</text>
<rect x="479.30" y="49.30" width="4.00" height="4.00" fill="#000" stroke="none"/>
<text transform="translate(484.20,51.70) scale(0.885,1)" y="2.51" font-size="7.0" text-anchor="start">Dll4<tspan dy="-2.52" font-size="4.90">hi</tspan><tspan dy="2.52">DC</tspan></text>
<text transform="translate(485.40,58.80) scale(0.808,1)" y="2.51" font-size="7.0" text-anchor="start">-CD4</text>
<rect x="479.30" y="66.60" width="4.00" height="4.00" fill="#dcdcdc" stroke="none"/>
<text transform="translate(484.20,68.60) scale(0.902,1)" y="2.51" font-size="7.0" text-anchor="start">GM-DC</text>
<text transform="translate(485.40,76.00) scale(0.808,1)" y="2.51" font-size="7.0" text-anchor="start">-CD4</text>
<text transform="translate(460.40,88.00) scale(1.022,1)" y="3.15" font-size="8.8" text-anchor="middle">IL-17</text>
<line x1="450.20" y1="92.30" x2="470.80" y2="92.30" stroke-width="0.9"/>
<line x1="452.80" y1="96.60" x2="452.80" y2="125.05" stroke-width="1.1"/>
<line x1="452.25" y1="124.50" x2="470.80" y2="124.50" stroke-width="1.1"/>
<line x1="450.00" y1="124.50" x2="452.80" y2="124.50" stroke-width="1.1"/>
<line x1="450.00" y1="119.95" x2="452.80" y2="119.95" stroke-width="1.1"/>
<line x1="450.00" y1="115.40" x2="452.80" y2="115.40" stroke-width="1.1"/>
<line x1="450.00" y1="110.85" x2="452.80" y2="110.85" stroke-width="1.1"/>
<line x1="450.00" y1="106.30" x2="452.80" y2="106.30" stroke-width="1.1"/>
<line x1="450.00" y1="101.75" x2="452.80" y2="101.75" stroke-width="1.1"/>
<line x1="450.00" y1="97.20" x2="452.80" y2="97.20" stroke-width="1.1"/>
<text transform="translate(449.40,124.50) scale(1.027,1)" y="2.00" font-size="5.6" text-anchor="end">0</text>
<text transform="translate(449.40,119.95) scale(1.027,1)" y="2.00" font-size="5.6" text-anchor="end">5</text>
<text transform="translate(449.40,115.40) scale(1.027,1)" y="2.00" font-size="5.6" text-anchor="end">10</text>
<text transform="translate(449.40,110.85) scale(1.027,1)" y="2.00" font-size="5.6" text-anchor="end">15</text>
<text transform="translate(449.40,106.30) scale(1.027,1)" y="2.00" font-size="5.6" text-anchor="end">20</text>
<text transform="translate(449.40,101.75) scale(1.027,1)" y="2.00" font-size="5.6" text-anchor="end">25</text>
<text transform="translate(449.40,97.20) scale(1.027,1)" y="2.00" font-size="5.6" text-anchor="end">30</text>
<line x1="457.90" y1="109.03" x2="457.90" y2="104.94" stroke-width="1.3"/>
<line x1="455.80" y1="104.94" x2="460.00" y2="104.94" stroke-width="1.3"/>
<rect x="454.70" y="109.03" width="6.40" height="15.47" fill="#000" stroke="none"/>
<path d="M465.2 120.3h4.6v1.1h-1.6v2.6h-1.4v-2.6h-1.6z" fill="#000"/>
<line x1="457.90" y1="124.50" x2="457.90" y2="126.70" stroke-width="1.0"/>
<line x1="467.50" y1="124.50" x2="467.50" y2="126.70" stroke-width="1.0"/>
<line x1="456.70" y1="102.30" x2="468.40" y2="102.30" stroke-width="1.1"/>
<text x="462.60" y="101.56" font-size="9.5" text-anchor="middle" font-weight="bold">***</text>
<text transform="translate(500.60,88.00) scale(0.963,1)" y="3.15" font-size="8.8" text-anchor="middle">TNF-α</text>
<line x1="488.50" y1="92.30" x2="512.80" y2="92.30" stroke-width="0.9"/>
<line x1="488.20" y1="96.50" x2="488.20" y2="125.05" stroke-width="1.1"/>
<line x1="487.65" y1="124.50" x2="510.50" y2="124.50" stroke-width="1.1"/>
<line x1="485.40" y1="124.50" x2="488.20" y2="124.50" stroke-width="1.1"/>
<text transform="translate(484.60,124.50)" y="2.43" font-size="6.8" text-anchor="end">0</text>
<line x1="485.40" y1="117.97" x2="488.20" y2="117.97" stroke-width="1.1"/>
<text transform="translate(484.60,117.97)" y="2.43" font-size="6.8" text-anchor="end">20</text>
<line x1="485.40" y1="111.44" x2="488.20" y2="111.44" stroke-width="1.1"/>
<text transform="translate(484.60,111.44)" y="2.43" font-size="6.8" text-anchor="end">40</text>
<line x1="485.40" y1="104.91" x2="488.20" y2="104.91" stroke-width="1.1"/>
<text transform="translate(484.60,104.91)" y="2.43" font-size="6.8" text-anchor="end">60</text>
<line x1="485.40" y1="98.38" x2="488.20" y2="98.38" stroke-width="1.1"/>
<text transform="translate(484.60,98.38)" y="2.43" font-size="6.8" text-anchor="end">80</text>
<line x1="495.00" y1="109.48" x2="495.00" y2="107.52" stroke-width="1.4"/>
<line x1="492.80" y1="107.52" x2="497.20" y2="107.52" stroke-width="1.4"/>
<rect x="491.20" y="109.48" width="7.60" height="15.02" fill="#000" stroke="none"/>
<line x1="505.30" y1="106.87" x2="505.30" y2="104.26" stroke-width="1.4"/>
<line x1="503.20" y1="104.26" x2="507.40" y2="104.26" stroke-width="1.4"/>
<rect x="502.10" y="106.87" width="6.40" height="17.63" fill="#d8d8d8" stroke="none"/>
<line x1="495.00" y1="124.50" x2="495.00" y2="126.70" stroke-width="1.0"/>
<line x1="505.30" y1="124.50" x2="505.30" y2="126.70" stroke-width="1.0"/>
<text transform="translate(299.30,225.90) scale(1.006,1)" y="2.72" font-size="7.6" text-anchor="start">B6 Dll4<tspan dy="-2.74" font-size="5.32">hi</tspan><tspan dy="2.74">DCs</tspan></text>
<line x1="345.00" y1="226.30" x2="348.60" y2="226.30" stroke-width="1.3"/>
<path d="M352.3 226.3l-4.2 -2.1v4.2z" fill="#000"/>
<text transform="translate(353.80,225.90) scale(1.02,1)" y="2.72" font-size="7.6" text-anchor="start">OT-II CD4 (CFSE<tspan dy="-2.74" font-size="5.32">low</tspan><tspan dy="2.74">)</tspan></text>
<line x1="297.00" y1="231.00" x2="428.70" y2="231.00" stroke-width="1.1"/>
<text transform="translate(296.50,316.20) scale(0.995,1)" y="2.72" font-size="7.6" text-anchor="start">BALB/c Dll4<tspan dy="-2.74" font-size="5.32">hi</tspan><tspan dy="2.74">DCs</tspan></text>
<line x1="358.20" y1="316.60" x2="361.60" y2="316.60" stroke-width="1.3"/>
<path d="M365.3 316.6l-4.2 -2.1v4.2z" fill="#000"/>
<text transform="translate(367.00,316.20) scale(0.991,1)" y="2.72" font-size="7.6" text-anchor="start">B6 CD4 (CFSE<tspan dy="-2.74" font-size="5.32">low</tspan><tspan dy="2.74">)</tspan></text>
<line x1="297.00" y1="322.30" x2="428.70" y2="322.30" stroke-width="1.4"/>
<rect x="293.50" y="266.60" width="137.50" height="2.10" fill="#d0d0d0" stroke="none"/>
<rect x="293.50" y="356.80" width="137.50" height="1.90" fill="#d0d0d0" stroke="none"/>
<ellipse cx="311.4" cy="248.9" rx="3.4" ry="8.5" fill="#000" opacity="0.4" transform="rotate(11 311.4 248.9)" filter="url(#b2)"/>
<ellipse cx="312.9" cy="247.9" rx="2.3" ry="8.6" fill="#000" opacity="0.97" transform="rotate(11 312.9 247.9)" filter="url(#b)"/>
<ellipse cx="311.2" cy="257.4" rx="2.3" ry="3.2" fill="#000" opacity="0.97" transform="rotate(15 311.2 257.4)" filter="url(#b)"/>
<ellipse cx="310.6" cy="261.3" rx="3.8" ry="2.8" fill="#000" opacity="0.95" transform="rotate(-10 310.6 261.3)" filter="url(#b2)"/>
<ellipse cx="310.6" cy="261.1" rx="2.8" ry="2.0" fill="#000" opacity="1" transform="rotate(-10 310.6 261.1)" filter="url(#b)"/>
<path d="M310.5 241.6h0.8M307.8 249.6h0.8M311.9 252.5h0.8M311.8 251.8h0.8M313.4 249.2h0.8M313.3 244.8h0.8M313.5 249.9h0.8M313.7 242.2h0.8M313.5 248.1h0.8M311.6 252.1h0.8M312.3 251.6h0.8M310.9 257.1h0.8M308.9 252.1h0.8M313.9 247.6h0.8M308.2 255.2h0.8M311.2 248.6h0.8M310.6 249.2h0.8M312.2 246.3h0.8M314.1 249.6h0.8M310.5 243.7h0.8M312.0 253.6h0.8M309.2 247.7h0.8M307.9 255.2h0.8M311.0 255.7h0.8M311.6 248.0h0.8M310.8 253.8h0.8M313.6 244.6h0.8M313.2 254.4h0.8M313.1 240.7h0.8M315.4 243.6h0.8M310.1 245.6h0.8M308.4 248.8h0.8M313.0 252.7h0.8M311.9 246.0h0.8M310.9 249.3h0.8M311.1 245.5h0.8M315.5 245.3h0.8M313.8 251.3h0.8M314.2 248.4h0.8M310.6 247.6h0.8M310.0 251.2h0.8M312.1 243.8h0.8M311.7 249.2h0.8M310.8 254.3h0.8M311.8 246.0h0.8M311.8 247.2h0.8M308.8 244.6h0.8M315.1 250.0h0.8M313.7 244.3h0.8M313.9 244.7h0.8" stroke="#000" stroke-width="0.8" fill="none" opacity="0.55"/>
<rect x="293.00" y="234.90" width="33.60" height="31.20" fill="none" stroke="#000" stroke-width="1.3"/>
<rect x="305.20" y="237.30" width="13.80" height="19.20" fill="none" stroke="#000" stroke-width="1.15"/>
<text transform="translate(299.30,245.60)" y="2.61" font-size="7.3" text-anchor="middle">60</text>
<ellipse cx="346.7" cy="248.9" rx="3.4" ry="8.5" fill="#000" opacity="0.4" transform="rotate(11 346.7 248.9)" filter="url(#b2)"/>
<ellipse cx="348.2" cy="247.9" rx="2.3" ry="8.6" fill="#000" opacity="0.97" transform="rotate(11 348.2 247.9)" filter="url(#b)"/>
<ellipse cx="346.5" cy="257.4" rx="2.3" ry="3.2" fill="#000" opacity="0.97" transform="rotate(15 346.5 257.4)" filter="url(#b)"/>
<ellipse cx="345.9" cy="261.3" rx="3.8" ry="2.8" fill="#000" opacity="0.95" transform="rotate(-10 345.9 261.3)" filter="url(#b2)"/>
<ellipse cx="345.9" cy="261.1" rx="2.8" ry="2.0" fill="#000" opacity="1" transform="rotate(-10 345.9 261.1)" filter="url(#b)"/>
<path d="M344.5 248.5h0.8M346.1 247.5h0.8M347.4 252.1h0.8M345.8 256.8h0.8M345.5 250.3h0.8M346.3 250.9h0.8M345.8 241.1h0.8M347.0 251.4h0.8M346.4 255.4h0.8M343.0 253.0h0.8M347.0 245.4h0.8M346.3 251.0h0.8M347.4 247.8h0.8M347.3 250.4h0.8M345.5 250.8h0.8M343.7 248.3h0.8M347.8 242.1h0.8M344.8 251.4h0.8M351.1 240.4h0.8M345.8 243.8h0.8M347.6 241.7h0.8M343.3 259.0h0.8M350.8 243.9h0.8M346.7 249.4h0.8M342.6 257.0h0.8M348.4 248.5h0.8M344.0 250.1h0.8M348.0 243.2h0.8M350.0 247.3h0.8M350.5 248.5h0.8M348.5 242.9h0.8M348.5 243.3h0.8M346.7 250.7h0.8M348.1 246.9h0.8M346.2 247.4h0.8M348.4 252.6h0.8M346.3 240.7h0.8M348.7 244.2h0.8M352.5 240.4h0.8M347.4 249.1h0.8M344.2 254.1h0.8M347.6 251.1h0.8M343.0 256.6h0.8M346.9 257.2h0.8M349.3 250.4h0.8M346.9 247.4h0.8M345.2 253.9h0.8M349.1 255.4h0.8M347.3 250.2h0.8M345.7 245.0h0.8" stroke="#000" stroke-width="0.8" fill="none" opacity="0.55"/>
<rect x="328.30" y="234.90" width="33.60" height="31.20" fill="none" stroke="#000" stroke-width="1.3"/>
<rect x="340.50" y="237.30" width="13.80" height="19.20" fill="none" stroke="#000" stroke-width="1.15"/>
<text transform="translate(334.60,245.60)" y="2.61" font-size="7.3" text-anchor="middle">58</text>
<ellipse cx="381.7" cy="249.9" rx="3.0" ry="7.0" fill="#000" opacity="0.33" transform="rotate(9 381.7 249.9)" filter="url(#b2)"/>
<ellipse cx="383.5" cy="248.4" rx="1.5" ry="8.6" fill="#000" opacity="0.97" transform="rotate(9 383.5 248.4)" filter="url(#b)"/>
<ellipse cx="382.2" cy="257.4" rx="2.0" ry="3.0" fill="#000" opacity="0.97" transform="rotate(20 382.2 257.4)" filter="url(#b)"/>
<ellipse cx="381.1" cy="261.9" rx="4.6" ry="3.1" fill="#000" opacity="1" transform="rotate(-12 381.1 261.9)" filter="url(#b)"/>
<path d="M378.5 257.8h0.8M382.6 250.4h0.8M381.7 245.0h0.8M383.6 246.0h0.8M382.6 257.5h0.8M379.8 257.1h0.8M385.8 246.1h0.8M378.5 257.9h0.8M381.4 256.2h0.8M383.2 254.3h0.8M382.8 246.5h0.8M380.2 256.9h0.8M381.4 252.9h0.8M382.9 240.6h0.8M380.1 254.8h0.8M382.8 241.5h0.8M383.0 250.5h0.8M382.8 251.8h0.8M382.1 244.2h0.8M382.1 245.8h0.8M384.3 252.4h0.8M384.5 248.7h0.8M378.6 256.1h0.8M383.3 245.5h0.8M381.2 242.4h0.8M379.8 254.3h0.8M379.4 253.9h0.8M379.8 255.8h0.8M383.3 254.0h0.8M382.0 241.8h0.8M385.2 243.9h0.8M383.8 249.9h0.8M382.6 257.8h0.8M380.5 254.0h0.8M383.2 247.9h0.8M383.3 254.8h0.8" stroke="#000" stroke-width="0.8" fill="none" opacity="0.5"/>
<rect x="363.30" y="234.90" width="33.20" height="31.20" fill="none" stroke="#000" stroke-width="1.3"/>
<rect x="375.50" y="237.30" width="13.80" height="19.20" fill="none" stroke="#000" stroke-width="1.15"/>
<text transform="translate(369.60,245.60)" y="2.61" font-size="7.3" text-anchor="middle">30</text>
<ellipse cx="416.8" cy="249.9" rx="3.0" ry="7.0" fill="#000" opacity="0.33" transform="rotate(9 416.8 249.9)" filter="url(#b2)"/>
<ellipse cx="418.6" cy="248.4" rx="1.5" ry="8.6" fill="#000" opacity="0.97" transform="rotate(9 418.6 248.4)" filter="url(#b)"/>
<ellipse cx="417.3" cy="257.4" rx="2.0" ry="3.0" fill="#000" opacity="0.97" transform="rotate(20 417.3 257.4)" filter="url(#b)"/>
<ellipse cx="416.2" cy="261.9" rx="4.6" ry="3.1" fill="#000" opacity="1" transform="rotate(-12 416.2 261.9)" filter="url(#b)"/>
<path d="M416.3 251.7h0.8M420.6 249.6h0.8M415.5 251.6h0.8M416.7 254.9h0.8M414.9 254.3h0.8M416.7 251.9h0.8M415.2 248.5h0.8M418.1 242.3h0.8M417.1 253.1h0.8M417.6 251.4h0.8M420.8 242.7h0.8M415.7 250.5h0.8M419.8 247.1h0.8M413.7 251.1h0.8M420.5 242.0h0.8M420.8 244.6h0.8M417.9 257.0h0.8M417.2 253.7h0.8M415.9 251.3h0.8M419.5 251.6h0.8M414.3 249.5h0.8M414.2 250.3h0.8M416.3 251.5h0.8M415.7 247.1h0.8M414.3 248.8h0.8M416.4 249.1h0.8M419.4 243.3h0.8M417.3 252.5h0.8M416.9 253.0h0.8M415.8 254.5h0.8M419.2 244.2h0.8M417.4 245.8h0.8M415.3 250.8h0.8M413.1 255.5h0.8M415.8 256.8h0.8M417.4 256.2h0.8" stroke="#000" stroke-width="0.8" fill="none" opacity="0.5"/>
<rect x="398.40" y="234.90" width="33.00" height="31.20" fill="none" stroke="#000" stroke-width="1.3"/>
<rect x="410.60" y="237.30" width="13.80" height="19.20" fill="none" stroke="#000" stroke-width="1.15"/>
<text transform="translate(404.70,245.60)" y="2.61" font-size="7.3" text-anchor="middle">27</text>
<ellipse cx="312.8" cy="283.2" rx="1.7" ry="7.6" fill="#000" opacity="0.5" transform="rotate(8 312.8 283.2)" filter="url(#b2)"/>
<ellipse cx="312.4" cy="288.7" rx="1.2" ry="3.5" fill="#000" opacity="0.5" transform="rotate(8 312.4 288.7)" filter="url(#b)"/>
<path d="M312.7 284.0h0.8M313.5 275.0h0.8M312.9 277.4h0.8M312.0 281.7h0.8M312.4 283.2h0.8M313.7 279.9h0.8M310.8 284.9h0.8M313.1 280.7h0.8M311.3 284.9h0.8M313.7 287.7h0.8M312.1 285.5h0.8M313.5 282.6h0.8M313.6 280.8h0.8M312.7 284.4h0.8M311.1 287.4h0.8M313.0 285.7h0.8M314.5 282.6h0.8M311.1 280.4h0.8M314.3 276.7h0.8M313.9 277.1h0.8M314.7 274.3h0.8M312.0 281.0h0.8M313.0 279.4h0.8M312.2 287.3h0.8M313.2 281.3h0.8M312.5 287.2h0.8M314.5 278.5h0.8M311.9 283.1h0.8M313.2 285.6h0.8M312.4 287.7h0.8M313.9 277.7h0.8M314.4 284.5h0.8M312.9 283.1h0.8M311.4 290.8h0.8M313.6 280.0h0.8M312.2 286.6h0.8M313.9 273.4h0.8M311.0 287.8h0.8M312.2 287.0h0.8M314.5 278.2h0.8M314.9 274.1h0.8M313.8 280.9h0.8M313.0 282.0h0.8M312.8 279.6h0.8M312.8 287.7h0.8M314.8 275.3h0.8M311.0 286.5h0.8M312.4 286.4h0.8M314.3 280.7h0.8M311.0 289.0h0.8" stroke="#000" stroke-width="0.8" fill="none" opacity="0.55"/>
<ellipse cx="311.6" cy="296.2" rx="5.3" ry="3.9" fill="#000" opacity="1.0" transform="rotate(0 311.6 296.2)" filter="url(#b)"/>
<rect x="293.00" y="269.20" width="33.60" height="31.30" fill="none" stroke="#000" stroke-width="1.3"/>
<rect x="305.20" y="271.60" width="13.80" height="19.20" fill="none" stroke="#000" stroke-width="1.15"/>
<text transform="translate(299.30,279.90)" y="2.61" font-size="7.3" text-anchor="middle">4</text>
<ellipse cx="348.1" cy="283.2" rx="1.7" ry="7.6" fill="#000" opacity="0.5" transform="rotate(8 348.1 283.2)" filter="url(#b2)"/>
<ellipse cx="347.7" cy="288.7" rx="1.2" ry="3.5" fill="#000" opacity="0.5" transform="rotate(8 347.7 288.7)" filter="url(#b)"/>
<path d="M347.5 283.1h0.8M350.0 282.4h0.8M349.2 280.1h0.8M348.0 283.8h0.8M349.9 276.4h0.8M350.0 276.6h0.8M348.4 281.9h0.8M347.5 280.0h0.8M349.1 276.9h0.8M348.5 282.0h0.8M349.3 280.9h0.8M348.1 283.2h0.8M348.3 281.1h0.8M346.7 285.9h0.8M349.7 276.0h0.8M347.7 284.7h0.8M346.3 283.7h0.8M349.0 277.2h0.8M346.7 282.2h0.8M349.1 284.9h0.8M348.5 276.8h0.8M347.5 276.9h0.8M348.0 280.7h0.8M347.6 283.3h0.8M346.4 282.3h0.8M350.6 275.4h0.8M348.6 284.1h0.8M348.3 288.2h0.8M344.9 289.3h0.8M347.1 282.8h0.8M347.4 286.0h0.8M348.5 281.0h0.8M350.5 277.9h0.8M347.3 286.3h0.8M349.8 280.3h0.8M349.9 279.6h0.8M347.6 283.5h0.8M345.9 284.4h0.8M348.3 286.4h0.8M350.1 281.0h0.8M348.1 286.0h0.8M349.8 277.0h0.8M349.9 275.5h0.8M350.8 277.6h0.8M349.2 276.6h0.8M345.7 286.2h0.8M346.9 284.1h0.8M349.7 279.1h0.8M348.7 282.0h0.8M348.5 282.5h0.8" stroke="#000" stroke-width="0.8" fill="none" opacity="0.55"/>
<ellipse cx="346.9" cy="296.2" rx="5.3" ry="3.9" fill="#000" opacity="1.0" transform="rotate(0 346.9 296.2)" filter="url(#b)"/>
<rect x="328.30" y="269.20" width="33.60" height="31.30" fill="none" stroke="#000" stroke-width="1.3"/>
<rect x="340.50" y="271.60" width="13.80" height="19.20" fill="none" stroke="#000" stroke-width="1.15"/>
<text transform="translate(334.60,279.90)" y="2.61" font-size="7.3" text-anchor="middle">5</text>
<path d="M383.3 289.0h0.8M383.2 280.0h0.8M383.8 284.9h0.8M383.8 281.0h0.8M382.7 278.4h0.8M383.0 275.7h0.8M383.0 277.2h0.8M382.8 273.9h0.8" stroke="#000" stroke-width="0.8" fill="none" opacity="0.3"/>
<ellipse cx="381.7" cy="296.4" rx="5.0" ry="3.8" fill="#000" opacity="1.0" transform="rotate(0 381.7 296.4)" filter="url(#b)"/>
<rect x="363.30" y="269.20" width="33.20" height="31.30" fill="none" stroke="#000" stroke-width="1.3"/>
<rect x="375.50" y="271.60" width="13.80" height="19.20" fill="none" stroke="#000" stroke-width="1.15"/>
<text transform="translate(370.20,279.90)" y="2.61" font-size="7.3" text-anchor="middle">0.5</text>
<path d="M420.1 278.0h0.8M418.5 289.2h0.8M417.3 284.7h0.8M419.8 276.9h0.8M417.7 273.6h0.8M417.9 280.4h0.8M417.8 282.0h0.8M419.1 288.7h0.8" stroke="#000" stroke-width="0.8" fill="none" opacity="0.3"/>
<ellipse cx="416.8" cy="296.4" rx="5.0" ry="3.8" fill="#000" opacity="1.0" transform="rotate(0 416.8 296.4)" filter="url(#b)"/>
<rect x="398.40" y="269.20" width="33.00" height="31.30" fill="none" stroke="#000" stroke-width="1.3"/>
<rect x="410.60" y="271.60" width="13.80" height="19.20" fill="none" stroke="#000" stroke-width="1.15"/>
<text transform="translate(405.30,279.90)" y="2.61" font-size="7.3" text-anchor="middle">0.2</text>
<ellipse cx="313.4" cy="335.3" rx="3.4" ry="7.0" fill="#000" opacity="0.35" transform="rotate(0 313.4 335.3)" filter="url(#b2)"/>
<ellipse cx="313.9" cy="335.3" rx="1.9" ry="6.6" fill="#000" opacity="0.85" transform="rotate(7 313.9 335.3)" filter="url(#b)"/>
<path d="M316.4 336.1h0.8M311.7 335.0h0.8M313.6 328.7h0.8M313.5 330.8h0.8M317.3 333.9h0.8M315.2 330.6h0.8M315.1 330.0h0.8M311.2 340.6h0.8M314.5 329.6h0.8M311.8 335.6h0.8M313.5 337.5h0.8M309.3 338.8h0.8M316.5 339.2h0.8M314.8 331.4h0.8M311.6 329.0h0.8M312.3 331.8h0.8M314.6 334.3h0.8M312.8 334.4h0.8M312.3 330.7h0.8M316.9 329.4h0.8M312.2 341.1h0.8M310.5 335.5h0.8M316.7 330.6h0.8M314.1 330.1h0.8M315.3 335.7h0.8M318.2 329.2h0.8M316.5 334.7h0.8M317.6 328.4h0.8M315.8 335.0h0.8M316.4 332.3h0.8M311.7 335.6h0.8M312.7 337.8h0.8M312.9 333.2h0.8M315.5 340.0h0.8M308.3 340.1h0.8M308.8 339.5h0.8M316.4 337.4h0.8M314.0 335.4h0.8M313.2 331.9h0.8M310.5 340.9h0.8M312.6 334.7h0.8M312.2 334.9h0.8M314.9 338.6h0.8M313.5 327.4h0.8M317.5 328.9h0.8M315.8 329.2h0.8M313.3 336.2h0.8M315.6 334.7h0.8M310.0 340.7h0.8M312.0 330.5h0.8M316.3 335.0h0.8M317.4 334.7h0.8M312.9 338.5h0.8M311.7 338.8h0.8M310.8 341.8h0.8M308.4 342.0h0.8M316.7 335.1h0.8M314.1 338.8h0.8M314.7 336.3h0.8M312.9 334.5h0.8M314.4 329.3h0.8M314.3 339.2h0.8M313.7 330.0h0.8M313.2 335.7h0.8M312.7 334.0h0.8M312.4 334.2h0.8M309.4 333.9h0.8M318.3 331.2h0.8M312.8 330.8h0.8M313.7 331.3h0.8" stroke="#000" stroke-width="0.8" fill="none" opacity="0.6"/>
<ellipse cx="312.8" cy="344.6" rx="1.9" ry="3.2" fill="#000" opacity="0.9" transform="rotate(20 312.8 344.6)" filter="url(#b)"/>
<ellipse cx="310.7" cy="349.6" rx="5.2" ry="3.0" fill="#000" opacity="0.97" transform="rotate(-36 310.7 349.6)" filter="url(#b)"/>
<path d="M306.5 348.1h0.8M308.9 353.8h0.8M310.8 351.0h0.8M309.4 349.7h0.8M311.4 349.0h0.8M306.2 350.4h0.8M314.1 346.9h0.8M311.0 348.9h0.8M311.3 351.7h0.8M306.3 350.2h0.8M303.7 349.7h0.8M308.8 347.4h0.8M316.4 349.3h0.8M311.7 350.4h0.8M309.8 348.9h0.8M307.6 347.5h0.8M307.6 349.3h0.8M305.9 354.0h0.8M310.4 348.7h0.8M317.5 345.1h0.8M312.1 351.9h0.8M309.6 351.2h0.8M308.9 350.6h0.8M305.4 351.2h0.8M309.7 351.3h0.8M309.3 348.5h0.8M303.6 349.4h0.8M310.1 351.6h0.8M314.9 349.7h0.8M310.4 349.7h0.8M309.0 346.1h0.8M309.7 348.0h0.8M312.2 347.6h0.8M309.7 352.9h0.8M316.2 353.3h0.8M309.5 352.1h0.8M317.8 350.1h0.8M315.8 354.4h0.8M314.0 344.6h0.8M313.4 353.8h0.8" stroke="#000" stroke-width="0.8" fill="none" opacity="0.7"/>
<rect x="293.00" y="325.30" width="33.60" height="30.90" fill="none" stroke="#000" stroke-width="1.1"/>
<rect x="306.80" y="326.70" width="14.00" height="17.20" fill="none" stroke="#000" stroke-width="1.15"/>
<text transform="translate(299.30,335.80)" y="2.61" font-size="7.3" text-anchor="middle">41</text>
<ellipse cx="348.7" cy="335.3" rx="3.4" ry="7.0" fill="#000" opacity="0.35" transform="rotate(0 348.7 335.3)" filter="url(#b2)"/>
<ellipse cx="349.2" cy="335.3" rx="1.9" ry="6.6" fill="#000" opacity="0.85" transform="rotate(7 349.2 335.3)" filter="url(#b)"/>
<path d="M350.4 334.1h0.8M353.2 335.4h0.8M345.6 339.8h0.8M352.3 331.8h0.8M349.1 340.0h0.8M345.2 337.3h0.8M351.0 331.3h0.8M350.2 338.1h0.8M350.8 338.9h0.8M346.4 337.1h0.8M350.5 327.0h0.8M343.6 340.1h0.8M346.8 336.5h0.8M349.7 334.3h0.8M345.6 335.8h0.8M348.0 339.4h0.8M352.8 339.5h0.8M353.7 333.7h0.8M349.4 327.7h0.8M351.6 342.2h0.8M351.5 338.2h0.8M351.3 333.6h0.8M350.9 340.4h0.8M351.0 337.5h0.8M350.3 337.8h0.8M351.8 327.8h0.8M348.6 330.9h0.8M349.6 335.9h0.8M348.4 329.0h0.8M347.6 336.8h0.8M349.6 335.8h0.8M347.2 336.7h0.8M350.4 336.5h0.8M352.1 329.2h0.8M350.7 330.6h0.8M350.3 338.7h0.8M347.2 329.7h0.8M351.4 329.7h0.8M350.9 336.3h0.8M346.6 341.6h0.8M349.7 335.2h0.8M348.5 330.5h0.8M347.5 338.4h0.8M349.2 335.6h0.8M349.7 336.9h0.8M352.8 333.2h0.8M348.8 335.9h0.8M351.7 342.2h0.8M348.7 330.9h0.8M346.6 342.0h0.8M347.3 343.5h0.8M345.6 330.7h0.8M348.2 331.9h0.8M347.3 332.7h0.8M349.2 336.4h0.8M347.9 332.4h0.8M350.6 342.3h0.8M351.7 340.6h0.8M351.5 334.6h0.8M353.4 331.4h0.8M347.2 328.2h0.8M348.3 330.7h0.8M346.2 339.7h0.8M345.5 333.7h0.8M349.6 327.5h0.8M352.0 331.8h0.8M350.9 336.1h0.8M348.7 329.5h0.8M347.4 330.3h0.8M346.0 332.5h0.8" stroke="#000" stroke-width="0.8" fill="none" opacity="0.6"/>
<ellipse cx="348.1" cy="344.6" rx="1.9" ry="3.2" fill="#000" opacity="0.9" transform="rotate(20 348.1 344.6)" filter="url(#b)"/>
<ellipse cx="346.0" cy="349.6" rx="5.2" ry="3.0" fill="#000" opacity="0.97" transform="rotate(-36 346.0 349.6)" filter="url(#b)"/>
<path d="M345.0 347.5h0.8M349.2 351.9h0.8M344.5 344.8h0.8M341.4 353.4h0.8M349.2 349.2h0.8M348.6 354.4h0.8M345.5 350.7h0.8M346.6 351.6h0.8M343.4 350.7h0.8M342.4 349.3h0.8M342.6 346.4h0.8M343.3 347.2h0.8M339.7 348.0h0.8M347.5 350.6h0.8M340.2 354.4h0.8M342.5 346.8h0.8M342.6 349.9h0.8M349.2 347.4h0.8M339.3 349.1h0.8M350.9 352.5h0.8M351.9 349.2h0.8M344.7 349.5h0.8M351.6 350.4h0.8M344.9 350.0h0.8M346.9 345.5h0.8M345.7 346.5h0.8M342.5 345.5h0.8M343.3 346.8h0.8M351.3 346.3h0.8M344.7 352.0h0.8M350.7 346.6h0.8M348.5 349.0h0.8M344.4 352.7h0.8M348.0 351.0h0.8M345.4 348.4h0.8M344.5 347.8h0.8M350.4 354.6h0.8M349.8 349.9h0.8M343.0 347.8h0.8M348.0 347.1h0.8" stroke="#000" stroke-width="0.8" fill="none" opacity="0.7"/>
<rect x="328.30" y="325.30" width="33.60" height="30.90" fill="none" stroke="#000" stroke-width="1.1"/>
<rect x="342.10" y="326.70" width="14.00" height="17.20" fill="none" stroke="#000" stroke-width="1.15"/>
<text transform="translate(334.60,335.80)" y="2.61" font-size="7.3" text-anchor="middle">39</text>
<ellipse cx="383.7" cy="335.3" rx="3.4" ry="7.0" fill="#000" opacity="0.35" transform="rotate(0 383.7 335.3)" filter="url(#b2)"/>
<ellipse cx="384.2" cy="335.3" rx="1.9" ry="6.6" fill="#000" opacity="0.85" transform="rotate(7 384.2 335.3)" filter="url(#b)"/>
<path d="M385.2 339.3h0.8M385.4 340.0h0.8M385.4 329.1h0.8M379.9 337.1h0.8M382.8 329.8h0.8M382.5 333.0h0.8M383.9 342.2h0.8M384.6 331.2h0.8M385.2 337.3h0.8M385.6 330.5h0.8M383.0 332.1h0.8M382.2 331.2h0.8M384.0 337.9h0.8M383.7 331.0h0.8M388.3 335.1h0.8M386.5 328.3h0.8M383.3 334.9h0.8M385.6 330.6h0.8M383.0 329.9h0.8M383.7 329.2h0.8M381.2 343.1h0.8M383.5 343.4h0.8M384.7 335.5h0.8M386.1 331.7h0.8M383.9 335.9h0.8M383.6 338.3h0.8M383.6 337.0h0.8M387.1 333.0h0.8M381.9 342.4h0.8M380.2 339.4h0.8M380.6 341.6h0.8M386.5 335.6h0.8M384.3 332.9h0.8M381.6 340.4h0.8M386.6 337.1h0.8M381.5 336.7h0.8M383.4 333.4h0.8M385.6 335.5h0.8M384.8 327.7h0.8M387.9 336.4h0.8M382.5 328.2h0.8M383.1 339.8h0.8M382.9 340.8h0.8M384.2 332.2h0.8M384.9 341.5h0.8M384.1 336.4h0.8M384.8 340.7h0.8M385.7 336.6h0.8M380.7 335.9h0.8M386.5 339.8h0.8M382.6 342.3h0.8M385.9 329.5h0.8M384.7 332.5h0.8M384.6 331.6h0.8M386.5 333.0h0.8M384.6 339.6h0.8M381.5 341.2h0.8M387.2 326.9h0.8M382.0 340.5h0.8M380.5 336.0h0.8M385.0 333.2h0.8M383.8 329.2h0.8M381.8 331.3h0.8M380.2 334.6h0.8M386.2 340.7h0.8M382.2 335.5h0.8M383.6 335.1h0.8M382.6 331.5h0.8M381.0 337.5h0.8M383.1 332.3h0.8" stroke="#000" stroke-width="0.8" fill="none" opacity="0.6"/>
<ellipse cx="383.1" cy="344.6" rx="1.9" ry="3.2" fill="#000" opacity="0.9" transform="rotate(20 383.1 344.6)" filter="url(#b)"/>
<ellipse cx="381.0" cy="349.6" rx="5.2" ry="3.0" fill="#000" opacity="0.97" transform="rotate(-36 381.0 349.6)" filter="url(#b)"/>
<path d="M382.1 346.7h0.8M384.9 345.9h0.8M380.9 351.7h0.8M385.5 352.1h0.8M380.8 348.5h0.8M379.6 347.9h0.8M381.4 348.5h0.8M382.4 351.1h0.8M380.1 352.4h0.8M381.5 354.5h0.8M379.9 349.1h0.8M379.4 349.7h0.8M381.3 350.2h0.8M380.6 347.4h0.8M377.9 346.7h0.8M382.4 350.0h0.8M385.7 351.0h0.8M378.4 346.9h0.8M376.9 347.1h0.8M377.6 347.7h0.8M376.7 351.6h0.8M374.6 352.0h0.8M376.0 348.2h0.8M383.0 349.6h0.8M378.3 348.4h0.8M377.6 346.7h0.8M378.2 347.1h0.8M384.6 349.8h0.8M379.5 347.6h0.8M376.8 352.0h0.8M376.2 350.6h0.8M381.8 345.9h0.8M376.7 348.4h0.8M378.9 350.6h0.8M383.1 347.5h0.8M376.2 346.9h0.8M380.6 348.3h0.8M380.2 349.9h0.8M383.2 353.0h0.8M374.5 349.1h0.8" stroke="#000" stroke-width="0.8" fill="none" opacity="0.7"/>
<rect x="363.30" y="325.30" width="33.20" height="30.90" fill="none" stroke="#000" stroke-width="1.1"/>
<rect x="377.10" y="326.70" width="14.00" height="17.20" fill="none" stroke="#000" stroke-width="1.15"/>
<text transform="translate(369.60,335.80)" y="2.61" font-size="7.3" text-anchor="middle">26</text>
<ellipse cx="418.8" cy="335.3" rx="3.4" ry="7.0" fill="#000" opacity="0.35" transform="rotate(0 418.8 335.3)" filter="url(#b2)"/>
<ellipse cx="419.3" cy="335.3" rx="1.9" ry="6.6" fill="#000" opacity="0.85" transform="rotate(7 419.3 335.3)" filter="url(#b)"/>
<path d="M416.6 336.3h0.8M420.9 336.5h0.8M422.5 337.1h0.8M421.7 332.5h0.8M421.6 326.8h0.8M420.4 340.6h0.8M418.6 338.0h0.8M423.2 333.5h0.8M420.2 337.7h0.8M419.3 341.5h0.8M417.6 328.5h0.8M417.4 341.0h0.8M421.1 328.9h0.8M418.3 333.1h0.8M413.9 341.4h0.8M418.2 334.6h0.8M417.0 340.6h0.8M423.1 337.6h0.8M416.0 328.5h0.8M418.8 331.7h0.8M420.3 329.8h0.8M422.5 331.4h0.8M420.3 337.6h0.8M419.2 336.2h0.8M419.4 327.2h0.8M414.8 341.5h0.8M418.2 330.7h0.8M424.2 329.7h0.8M418.1 335.8h0.8M419.1 332.4h0.8M417.3 332.4h0.8M417.1 338.5h0.8M419.8 339.4h0.8M422.4 339.6h0.8M415.5 340.2h0.8M421.3 341.6h0.8M415.0 341.0h0.8M420.6 341.3h0.8M418.3 333.1h0.8M417.4 334.3h0.8M418.2 338.7h0.8M419.0 334.9h0.8M416.3 333.3h0.8M420.7 338.0h0.8M422.3 329.4h0.8M418.4 341.2h0.8M421.5 342.2h0.8M420.2 331.5h0.8M418.4 330.7h0.8M414.4 338.3h0.8M420.2 333.7h0.8M416.9 334.6h0.8M413.6 342.3h0.8M418.3 335.5h0.8M420.9 333.3h0.8M418.2 336.3h0.8M418.1 338.3h0.8M421.9 337.7h0.8M418.8 336.3h0.8M423.1 332.4h0.8M419.6 339.8h0.8M416.4 336.6h0.8M419.6 335.5h0.8M417.1 329.5h0.8M419.9 334.6h0.8M423.3 328.1h0.8M420.1 339.5h0.8M418.9 332.5h0.8M413.7 340.6h0.8M416.7 333.1h0.8" stroke="#000" stroke-width="0.8" fill="none" opacity="0.6"/>
<ellipse cx="418.2" cy="344.6" rx="1.9" ry="3.2" fill="#000" opacity="0.9" transform="rotate(20 418.2 344.6)" filter="url(#b)"/>
<ellipse cx="416.1" cy="349.6" rx="5.2" ry="3.0" fill="#000" opacity="0.97" transform="rotate(-36 416.1 349.6)" filter="url(#b)"/>
<path d="M418.9 347.6h0.8M410.2 353.4h0.8M419.5 351.2h0.8M421.5 350.3h0.8M412.7 352.9h0.8M417.1 349.9h0.8M415.0 346.0h0.8M417.6 352.5h0.8M418.6 349.6h0.8M412.5 352.3h0.8M414.2 353.1h0.8M414.3 349.0h0.8M418.3 345.8h0.8M419.4 345.9h0.8M421.2 347.2h0.8M420.8 350.5h0.8M418.3 346.3h0.8M417.2 351.7h0.8M413.6 349.2h0.8M410.8 351.0h0.8M417.5 346.5h0.8M418.8 347.3h0.8M415.1 349.6h0.8M416.8 347.3h0.8M413.7 345.0h0.8M412.3 351.9h0.8M414.5 349.2h0.8M412.4 345.9h0.8M411.8 347.3h0.8M417.3 349.4h0.8M417.5 351.4h0.8M421.7 346.1h0.8M419.1 350.6h0.8M420.5 345.8h0.8M420.7 351.1h0.8M416.7 347.9h0.8M418.8 349.4h0.8M417.2 350.0h0.8M411.2 346.9h0.8M412.0 349.5h0.8" stroke="#000" stroke-width="0.8" fill="none" opacity="0.7"/>
<rect x="398.40" y="325.30" width="33.00" height="30.90" fill="none" stroke="#000" stroke-width="1.1"/>
<rect x="412.20" y="326.70" width="14.00" height="17.20" fill="none" stroke="#000" stroke-width="1.15"/>
<text transform="translate(404.70,335.80)" y="2.61" font-size="7.3" text-anchor="middle">29</text>
<ellipse cx="313.4" cy="369.2" rx="3.4" ry="7.0" fill="#000" opacity="0.35" transform="rotate(0 313.4 369.2)" filter="url(#b2)"/>
<ellipse cx="313.9" cy="369.2" rx="1.9" ry="6.6" fill="#000" opacity="0.85" transform="rotate(7 313.9 369.2)" filter="url(#b)"/>
<path d="M316.8 371.8h0.8M309.4 366.0h0.8M313.1 371.0h0.8M318.3 364.9h0.8M312.9 372.6h0.8M317.9 362.4h0.8M314.9 374.7h0.8M309.4 377.2h0.8M316.6 364.3h0.8M313.0 371.4h0.8M316.7 366.8h0.8M315.7 370.4h0.8M314.5 363.6h0.8M316.0 371.2h0.8M314.2 361.0h0.8M314.0 366.0h0.8M314.8 368.5h0.8M313.6 373.1h0.8M316.0 368.8h0.8M312.6 376.1h0.8M316.6 365.3h0.8M312.7 367.2h0.8M313.4 368.4h0.8M316.9 362.0h0.8M314.5 361.8h0.8M315.0 363.9h0.8M310.6 363.5h0.8M313.6 363.0h0.8M311.2 372.5h0.8M313.2 375.9h0.8M313.0 361.7h0.8M311.8 369.4h0.8M311.3 366.5h0.8M315.6 370.0h0.8M317.8 363.9h0.8M313.3 365.0h0.8M313.9 377.5h0.8M313.7 369.4h0.8M313.2 367.4h0.8M311.2 374.7h0.8M313.9 369.4h0.8M314.0 367.7h0.8M313.2 375.9h0.8M312.1 364.2h0.8M314.2 375.0h0.8M313.8 365.0h0.8M315.0 369.7h0.8M314.5 364.4h0.8M312.3 362.8h0.8M317.4 368.1h0.8M318.2 368.8h0.8M316.8 371.1h0.8M312.4 368.4h0.8M312.2 368.4h0.8M312.0 372.3h0.8M314.3 367.3h0.8M311.6 371.2h0.8M318.6 365.2h0.8M311.6 364.9h0.8M313.2 368.3h0.8M317.6 370.7h0.8M312.4 375.7h0.8M316.1 369.8h0.8M314.1 368.6h0.8M315.4 363.8h0.8M309.6 368.8h0.8M314.3 370.4h0.8M317.7 365.2h0.8M313.8 371.0h0.8M314.9 376.7h0.8" stroke="#000" stroke-width="0.8" fill="none" opacity="0.6"/>
<ellipse cx="312.6" cy="379.7" rx="1.4" ry="2.6" fill="#000" opacity="0.6" transform="rotate(10 312.6 379.7)" filter="url(#b)"/>
<ellipse cx="311.3" cy="385.4" rx="5.0" ry="3.5" fill="#000" opacity="0.97" transform="rotate(-18 311.3 385.4)" filter="url(#b)"/>
<path d="M309.5 382.5h0.8M312.2 384.7h0.8M312.5 381.4h0.8M308.9 380.7h0.8M312.4 384.2h0.8M308.1 386.0h0.8M312.6 386.1h0.8M311.4 384.7h0.8M317.0 383.4h0.8M316.8 385.8h0.8M309.1 382.3h0.8M313.2 384.0h0.8M307.5 384.0h0.8M306.7 380.4h0.8M313.3 387.9h0.8M309.3 380.7h0.8M310.6 383.6h0.8M309.7 385.1h0.8M314.5 384.9h0.8M308.5 387.8h0.8M308.2 384.5h0.8M310.9 383.7h0.8M313.8 384.0h0.8M312.9 382.2h0.8M310.0 387.3h0.8M313.8 384.0h0.8M309.9 383.9h0.8M314.2 385.6h0.8M313.7 385.8h0.8M309.6 380.8h0.8M313.6 386.4h0.8M309.4 383.2h0.8M312.4 389.7h0.8M305.7 388.8h0.8M309.0 386.3h0.8M316.6 383.5h0.8M307.4 381.8h0.8M310.3 382.9h0.8M313.1 385.1h0.8M313.3 388.8h0.8" stroke="#000" stroke-width="0.8" fill="none" opacity="0.7"/>
<rect x="293.00" y="359.20" width="33.60" height="31.90" fill="none" stroke="#000" stroke-width="1.1"/>
<rect x="306.80" y="360.60" width="14.00" height="17.20" fill="none" stroke="#000" stroke-width="1.15"/>
<text transform="translate(299.30,369.70)" y="2.61" font-size="7.3" text-anchor="middle">23</text>
<ellipse cx="348.7" cy="369.2" rx="3.4" ry="7.0" fill="#000" opacity="0.35" transform="rotate(0 348.7 369.2)" filter="url(#b2)"/>
<ellipse cx="349.2" cy="369.2" rx="1.9" ry="6.6" fill="#000" opacity="0.85" transform="rotate(7 349.2 369.2)" filter="url(#b)"/>
<path d="M349.5 374.5h0.8M352.7 368.5h0.8M351.8 367.7h0.8M347.2 369.4h0.8M350.2 372.5h0.8M351.6 370.7h0.8M346.7 369.8h0.8M346.1 369.6h0.8M346.0 369.2h0.8M348.3 375.9h0.8M349.3 364.6h0.8M350.9 364.6h0.8M351.5 373.8h0.8M348.0 374.4h0.8M349.3 375.1h0.8M353.5 362.9h0.8M347.8 364.8h0.8M347.7 361.5h0.8M347.4 363.1h0.8M348.6 363.3h0.8M347.4 373.1h0.8M351.5 371.4h0.8M353.4 366.2h0.8M348.7 369.0h0.8M352.3 371.0h0.8M352.3 363.2h0.8M349.4 366.8h0.8M352.8 364.2h0.8M345.3 373.0h0.8M346.1 364.7h0.8M348.5 369.0h0.8M352.1 360.8h0.8M345.1 364.7h0.8M348.5 371.1h0.8M350.6 370.1h0.8M348.6 373.9h0.8M351.4 374.9h0.8M346.5 364.1h0.8M347.9 371.1h0.8M347.7 373.3h0.8M346.7 362.9h0.8M351.3 368.0h0.8M344.9 376.5h0.8M348.3 371.4h0.8M346.4 363.5h0.8M346.4 376.9h0.8M350.1 368.8h0.8M350.5 371.0h0.8M348.3 365.2h0.8M349.6 370.5h0.8M344.6 365.6h0.8M350.5 373.5h0.8M347.8 373.9h0.8M349.9 367.2h0.8M344.1 370.4h0.8M352.0 366.0h0.8M348.2 370.9h0.8M349.8 375.4h0.8M347.9 371.9h0.8M351.4 371.3h0.8M345.1 370.8h0.8M348.2 368.3h0.8M352.0 371.3h0.8M347.6 368.9h0.8M349.6 372.9h0.8M350.7 365.3h0.8M349.6 370.1h0.8M345.8 361.6h0.8M352.8 360.8h0.8M344.5 374.1h0.8" stroke="#000" stroke-width="0.8" fill="none" opacity="0.6"/>
<ellipse cx="347.9" cy="379.7" rx="1.4" ry="2.6" fill="#000" opacity="0.6" transform="rotate(10 347.9 379.7)" filter="url(#b)"/>
<ellipse cx="346.6" cy="385.4" rx="5.0" ry="3.5" fill="#000" opacity="0.97" transform="rotate(-18 346.6 385.4)" filter="url(#b)"/>
<path d="M341.9 389.5h0.8M341.2 382.5h0.8M350.0 387.2h0.8M349.4 388.4h0.8M353.0 385.8h0.8M347.0 384.8h0.8M345.2 386.2h0.8M351.7 384.6h0.8M349.1 390.0h0.8M344.5 384.7h0.8M345.1 383.8h0.8M346.2 383.7h0.8M351.1 384.3h0.8M344.9 380.7h0.8M344.9 387.5h0.8M348.9 383.8h0.8M342.6 384.8h0.8M349.3 385.5h0.8M350.4 379.8h0.8M349.5 379.7h0.8M347.6 381.0h0.8M350.9 384.9h0.8M344.9 384.8h0.8M347.5 382.7h0.8M350.3 384.3h0.8M351.8 386.3h0.8M347.4 387.2h0.8M349.2 384.8h0.8M341.1 387.4h0.8M345.1 386.3h0.8M350.0 386.0h0.8M350.8 384.7h0.8M346.7 385.7h0.8M350.4 383.3h0.8M346.8 387.9h0.8M352.7 389.4h0.8M350.2 385.7h0.8M350.0 387.7h0.8M347.2 387.2h0.8M353.2 387.3h0.8" stroke="#000" stroke-width="0.8" fill="none" opacity="0.7"/>
<rect x="328.30" y="359.20" width="33.60" height="31.90" fill="none" stroke="#000" stroke-width="1.1"/>
<rect x="342.10" y="360.60" width="14.00" height="17.20" fill="none" stroke="#000" stroke-width="1.15"/>
<text transform="translate(334.60,369.70)" y="2.61" font-size="7.3" text-anchor="middle">21</text>
<ellipse cx="383.7" cy="369.7" rx="2.2" ry="5.0" fill="#000" opacity="0.08" transform="rotate(0 383.7 369.7)" filter="url(#b2)"/>
<path d="M383.8 369.5h0.8M383.3 365.6h0.8M383.0 367.6h0.8M384.5 375.0h0.8M383.9 370.4h0.8M383.6 370.3h0.8M385.0 368.9h0.8M381.4 371.7h0.8M383.6 369.2h0.8M383.4 373.1h0.8M381.9 370.4h0.8M384.0 364.3h0.8M382.4 377.0h0.8M385.8 362.9h0.8M385.2 371.5h0.8M384.3 369.1h0.8M384.0 369.5h0.8M383.3 368.1h0.8M383.7 369.9h0.8M384.6 369.2h0.8M384.8 364.5h0.8M385.0 372.7h0.8" stroke="#000" stroke-width="0.8" fill="none" opacity="0.3"/>
<ellipse cx="381.6" cy="385.4" rx="5.0" ry="3.5" fill="#000" opacity="0.97" transform="rotate(-18 381.6 385.4)" filter="url(#b)"/>
<path d="M379.2 380.2h0.8M380.9 383.2h0.8M387.6 387.5h0.8M385.4 389.7h0.8M383.3 384.3h0.8M377.8 380.2h0.8M378.6 383.7h0.8M383.9 388.7h0.8M378.8 384.4h0.8M382.9 385.9h0.8M379.4 380.2h0.8M382.3 387.9h0.8M380.5 383.7h0.8M384.0 380.2h0.8M375.2 380.6h0.8M385.6 386.1h0.8M386.4 384.0h0.8M388.6 385.2h0.8M388.4 381.8h0.8M381.5 384.2h0.8M377.5 383.7h0.8M388.7 387.0h0.8M379.4 389.1h0.8M386.1 386.7h0.8M376.3 386.9h0.8M378.3 382.8h0.8M382.7 385.5h0.8M376.3 383.4h0.8M381.8 381.3h0.8M384.5 388.6h0.8M382.6 385.8h0.8M379.4 382.4h0.8M379.6 387.9h0.8M386.0 390.0h0.8M380.7 387.2h0.8M381.1 382.2h0.8M380.2 382.1h0.8" stroke="#000" stroke-width="0.8" fill="none" opacity="0.7"/>
<rect x="363.30" y="359.20" width="33.20" height="31.90" fill="none" stroke="#000" stroke-width="1.1"/>
<rect x="377.10" y="360.60" width="14.00" height="17.20" fill="none" stroke="#000" stroke-width="1.15"/>
<text transform="translate(369.60,369.70)" y="2.61" font-size="7.3" text-anchor="middle">2</text>
<ellipse cx="418.8" cy="369.7" rx="2.2" ry="5.0" fill="#000" opacity="0.08" transform="rotate(0 418.8 369.7)" filter="url(#b2)"/>
<path d="M418.2 368.3h0.8M417.6 374.8h0.8M420.9 366.5h0.8M419.8 371.0h0.8M419.6 367.1h0.8M419.1 375.6h0.8M421.0 371.7h0.8M421.0 372.5h0.8M417.3 364.6h0.8M418.0 371.7h0.8M418.2 375.6h0.8M417.9 366.9h0.8M419.8 373.0h0.8M421.2 370.4h0.8M417.1 366.2h0.8M419.0 369.8h0.8M419.7 370.3h0.8M421.6 363.0h0.8M419.6 371.3h0.8M419.4 373.5h0.8M418.7 366.2h0.8M418.8 363.8h0.8" stroke="#000" stroke-width="0.8" fill="none" opacity="0.3"/>
<ellipse cx="416.7" cy="385.4" rx="5.0" ry="3.5" fill="#000" opacity="0.97" transform="rotate(-18 416.7 385.4)" filter="url(#b)"/>
<path d="M414.3 384.4h0.8M422.3 386.8h0.8M415.1 385.0h0.8M413.7 381.6h0.8M416.2 382.8h0.8M417.6 387.5h0.8M418.5 389.7h0.8M416.1 385.8h0.8M410.6 385.9h0.8M413.8 384.9h0.8M416.6 384.4h0.8M416.6 384.2h0.8M418.1 386.2h0.8M420.6 383.0h0.8M418.4 385.2h0.8M418.8 386.4h0.8M416.2 385.4h0.8M421.6 387.7h0.8M418.8 383.4h0.8M415.7 382.8h0.8M417.3 380.1h0.8M412.5 384.0h0.8M415.8 381.8h0.8M419.5 384.7h0.8M412.0 384.1h0.8M413.9 389.8h0.8M423.1 385.8h0.8M416.3 385.2h0.8M415.0 388.0h0.8M416.2 385.3h0.8M419.9 383.9h0.8M422.7 385.9h0.8M410.9 386.3h0.8M415.6 386.3h0.8M420.8 384.3h0.8M410.1 386.3h0.8M409.9 384.6h0.8M418.8 384.0h0.8M413.2 381.6h0.8" stroke="#000" stroke-width="0.8" fill="none" opacity="0.7"/>
<rect x="398.40" y="359.20" width="33.00" height="31.90" fill="none" stroke="#000" stroke-width="1.1"/>
<rect x="412.20" y="360.60" width="14.00" height="17.20" fill="none" stroke="#000" stroke-width="1.15"/>
<text transform="translate(404.70,369.70)" y="2.61" font-size="7.3" text-anchor="middle">2</text>
<text transform="translate(286.50,249.00) rotate(-90) scale(1.049,1)" y="2.79" font-size="7.8" text-anchor="middle">IFN-γ</text>
<text transform="translate(286.50,284.80) rotate(-90) scale(1.086,1)" y="2.79" font-size="7.8" text-anchor="middle">IL-17</text>
<text transform="translate(286.50,340.90) rotate(-90) scale(1.049,1)" y="2.79" font-size="7.8" text-anchor="middle">IFN-γ</text>
<text transform="translate(286.50,376.80) rotate(-90) scale(1.086,1)" y="2.79" font-size="7.8" text-anchor="middle">IL-17</text>
<text transform="translate(263.00,398.70) scale(1.038,1)" y="2.72" font-size="7.6" text-anchor="start">Anti-Dll1</text>
<text transform="translate(263.00,410.00) scale(1.038,1)" y="2.72" font-size="7.6" text-anchor="start">Anti-Dll4</text>
<text transform="translate(309.70,399.30)" y="2.51" font-size="7" text-anchor="middle">-</text>
<text transform="translate(309.70,410.80)" y="2.51" font-size="7" text-anchor="middle">-</text>
<text transform="translate(345.40,399.30)" y="2.51" font-size="7" text-anchor="middle">+</text>
<text transform="translate(345.40,410.80)" y="2.51" font-size="7" text-anchor="middle">-</text>
<text transform="translate(380.50,399.30)" y="2.51" font-size="7" text-anchor="middle">-</text>
<text transform="translate(380.50,410.80)" y="2.51" font-size="7" text-anchor="middle">+</text>
<text transform="translate(414.60,399.30)" y="2.51" font-size="7" text-anchor="middle">+</text>
<text transform="translate(414.60,410.80)" y="2.51" font-size="7" text-anchor="middle">+</text>
<line x1="435.00" y1="240.60" x2="438.50" y2="240.60" stroke-width="1.3"/>
<path d="M442.2 240.6l-4.2 -2.1v4.2z" fill="#000"/>
<line x1="435.00" y1="330.50" x2="438.50" y2="330.50" stroke-width="1.3"/>
<path d="M442.2 330.5l-4.2 -2.1v4.2z" fill="#000"/>
<text transform="translate(447.70,261.00) rotate(-90) scale(0.801,1)" y="3.29" font-size="9.2" text-anchor="middle" class="n">Percent cell</text>
<text transform="translate(447.30,356.20) rotate(-90) scale(0.801,1)" y="3.29" font-size="9.2" text-anchor="middle" class="n">Percent cell</text>
<line x1="470.20" y1="224.20" x2="470.20" y2="257.85" stroke-width="1.1"/>
<line x1="469.65" y1="257.30" x2="501.60" y2="257.30" stroke-width="1.1"/>
<line x1="467.00" y1="257.30" x2="470.20" y2="257.30" stroke-width="1.1"/>
<text transform="translate(465.00,257.30)" y="2.43" font-size="6.8" text-anchor="end">0</text>
<line x1="467.00" y1="249.75" x2="470.20" y2="249.75" stroke-width="1.1"/>
<text transform="translate(465.00,249.75)" y="2.43" font-size="6.8" text-anchor="end">20</text>
<line x1="467.00" y1="242.20" x2="470.20" y2="242.20" stroke-width="1.1"/>
<text transform="translate(465.00,242.20)" y="2.43" font-size="6.8" text-anchor="end">40</text>
<line x1="467.00" y1="234.65" x2="470.20" y2="234.65" stroke-width="1.1"/>
<text transform="translate(465.00,234.65)" y="2.43" font-size="6.8" text-anchor="end">60</text>
<line x1="467.00" y1="227.10" x2="470.20" y2="227.10" stroke-width="1.1"/>
<text transform="translate(465.00,227.10)" y="2.43" font-size="6.8" text-anchor="end">80</text>
<line x1="475.00" y1="234.65" x2="475.00" y2="233.14" stroke-width="1.1"/>
<line x1="473.50" y1="233.14" x2="476.50" y2="233.14" stroke-width="1.1"/>
<rect x="472.10" y="234.65" width="5.80" height="22.65" fill="#000" stroke="none"/>
<line x1="475.00" y1="257.30" x2="475.00" y2="259.50" stroke-width="1.0"/>
<line x1="482.20" y1="236.16" x2="482.20" y2="235.41" stroke-width="1.1"/>
<line x1="480.70" y1="235.41" x2="483.70" y2="235.41" stroke-width="1.1"/>
<rect x="479.40" y="236.16" width="5.60" height="21.14" fill="#000" stroke="none"/>
<line x1="482.20" y1="257.30" x2="482.20" y2="259.50" stroke-width="1.0"/>
<line x1="489.60" y1="246.73" x2="489.60" y2="246.16" stroke-width="1.1"/>
<line x1="488.10" y1="246.16" x2="491.10" y2="246.16" stroke-width="1.1"/>
<rect x="487.10" y="246.73" width="5.00" height="10.57" fill="#000" stroke="none"/>
<line x1="489.60" y1="257.30" x2="489.60" y2="259.50" stroke-width="1.0"/>
<line x1="496.80" y1="246.73" x2="496.80" y2="245.98" stroke-width="1.1"/>
<line x1="495.30" y1="245.98" x2="498.30" y2="245.98" stroke-width="1.1"/>
<rect x="494.30" y="246.73" width="5.00" height="10.57" fill="#000" stroke="none"/>
<line x1="496.80" y1="257.30" x2="496.80" y2="259.50" stroke-width="1.0"/>
<line x1="473.50" y1="228.90" x2="491.00" y2="228.90" stroke-width="1.3"/>
<text x="482.00" y="228.06" font-size="9.5" text-anchor="middle" font-weight="bold">***</text>
<text transform="translate(494.40,233.90)" y="2.72" font-size="7.6" text-anchor="start">IFN-γ</text>
<line x1="470.20" y1="266.00" x2="470.20" y2="300.15" stroke-width="1.1"/>
<line x1="469.65" y1="299.60" x2="501.60" y2="299.60" stroke-width="1.1"/>
<line x1="467.00" y1="299.60" x2="470.20" y2="299.60" stroke-width="1.1"/>
<text transform="translate(465.00,299.60)" y="2.43" font-size="6.8" text-anchor="end">0</text>
<line x1="467.00" y1="291.88" x2="470.20" y2="291.88" stroke-width="1.1"/>
<text transform="translate(465.00,291.88)" y="2.43" font-size="6.8" text-anchor="end">2</text>
<line x1="467.00" y1="284.16" x2="470.20" y2="284.16" stroke-width="1.1"/>
<text transform="translate(465.00,284.16)" y="2.43" font-size="6.8" text-anchor="end">4</text>
<line x1="467.00" y1="276.44" x2="470.20" y2="276.44" stroke-width="1.1"/>
<text transform="translate(465.00,276.44)" y="2.43" font-size="6.8" text-anchor="end">6</text>
<line x1="467.00" y1="268.72" x2="470.20" y2="268.72" stroke-width="1.1"/>
<text transform="translate(465.00,268.72)" y="2.43" font-size="6.8" text-anchor="end">8</text>
<line x1="475.00" y1="285.32" x2="475.00" y2="283.58" stroke-width="1.1"/>
<line x1="473.50" y1="283.58" x2="476.50" y2="283.58" stroke-width="1.1"/>
<rect x="472.10" y="285.32" width="5.80" height="14.28" fill="#000" stroke="none"/>
<line x1="475.00" y1="299.60" x2="475.00" y2="301.80" stroke-width="1.0"/>
<line x1="482.20" y1="280.88" x2="482.20" y2="277.21" stroke-width="1.1"/>
<line x1="480.70" y1="277.21" x2="483.70" y2="277.21" stroke-width="1.1"/>
<rect x="479.40" y="280.88" width="5.60" height="18.72" fill="#000" stroke="none"/>
<line x1="482.20" y1="299.60" x2="482.20" y2="301.80" stroke-width="1.0"/>
<line x1="489.60" y1="299.02" x2="489.60" y2="298.64" stroke-width="1.1"/>
<line x1="488.10" y1="298.64" x2="491.10" y2="298.64" stroke-width="1.1"/>
<rect x="487.10" y="299.02" width="5.00" height="0.58" fill="#000" stroke="none"/>
<line x1="489.60" y1="299.60" x2="489.60" y2="301.80" stroke-width="1.0"/>
<line x1="496.80" y1="299.02" x2="496.80" y2="298.44" stroke-width="1.1"/>
<line x1="495.30" y1="298.44" x2="498.30" y2="298.44" stroke-width="1.1"/>
<rect x="494.30" y="299.02" width="5.00" height="0.58" fill="#000" stroke="none"/>
<line x1="496.80" y1="299.60" x2="496.80" y2="301.80" stroke-width="1.0"/>
<line x1="473.50" y1="273.40" x2="491.00" y2="273.40" stroke-width="1.3"/>
<text x="482.00" y="272.96" font-size="9.5" text-anchor="middle" font-weight="bold">***</text>
<text transform="translate(494.40,279.70)" y="2.72" font-size="7.6" text-anchor="start">IL-17</text>
<line x1="470.20" y1="319.60" x2="470.20" y2="350.25" stroke-width="1.1"/>
<line x1="469.65" y1="349.70" x2="501.60" y2="349.70" stroke-width="1.1"/>
<line x1="467.00" y1="349.70" x2="470.20" y2="349.70" stroke-width="1.1"/>
<text transform="translate(465.00,349.70)" y="2.15" font-size="6.0" text-anchor="end">0</text>
<line x1="467.00" y1="344.16" x2="470.20" y2="344.16" stroke-width="1.1"/>
<text transform="translate(465.00,344.16)" y="2.15" font-size="6.0" text-anchor="end">10</text>
<line x1="467.00" y1="338.62" x2="470.20" y2="338.62" stroke-width="1.1"/>
<text transform="translate(465.00,338.62)" y="2.15" font-size="6.0" text-anchor="end">20</text>
<line x1="467.00" y1="333.08" x2="470.20" y2="333.08" stroke-width="1.1"/>
<text transform="translate(465.00,333.08)" y="2.15" font-size="6.0" text-anchor="end">30</text>
<line x1="467.00" y1="327.54" x2="470.20" y2="327.54" stroke-width="1.1"/>
<text transform="translate(465.00,327.54)" y="2.15" font-size="6.0" text-anchor="end">40</text>
<line x1="467.00" y1="322.00" x2="470.20" y2="322.00" stroke-width="1.1"/>
<text transform="translate(465.00,322.00)" y="2.15" font-size="6.0" text-anchor="end">50</text>
<line x1="475.00" y1="328.09" x2="475.00" y2="326.15" stroke-width="1.1"/>
<line x1="473.50" y1="326.15" x2="476.50" y2="326.15" stroke-width="1.1"/>
<rect x="472.10" y="328.09" width="5.80" height="21.61" fill="#000" stroke="none"/>
<line x1="475.00" y1="349.70" x2="475.00" y2="351.90" stroke-width="1.0"/>
<line x1="482.20" y1="328.37" x2="482.20" y2="327.82" stroke-width="1.1"/>
<line x1="480.70" y1="327.82" x2="483.70" y2="327.82" stroke-width="1.1"/>
<rect x="479.40" y="328.37" width="5.60" height="21.33" fill="#000" stroke="none"/>
<line x1="482.20" y1="349.70" x2="482.20" y2="351.90" stroke-width="1.0"/>
<line x1="489.60" y1="335.30" x2="489.60" y2="334.74" stroke-width="1.1"/>
<line x1="488.10" y1="334.74" x2="491.10" y2="334.74" stroke-width="1.1"/>
<rect x="487.10" y="335.30" width="5.00" height="14.40" fill="#000" stroke="none"/>
<line x1="489.60" y1="349.70" x2="489.60" y2="351.90" stroke-width="1.0"/>
<line x1="496.80" y1="333.91" x2="496.80" y2="333.36" stroke-width="1.1"/>
<line x1="495.30" y1="333.36" x2="498.30" y2="333.36" stroke-width="1.1"/>
<rect x="494.30" y="333.91" width="5.00" height="15.79" fill="#000" stroke="none"/>
<line x1="496.80" y1="349.70" x2="496.80" y2="351.90" stroke-width="1.0"/>
<line x1="473.50" y1="323.00" x2="486.50" y2="323.00" stroke-width="1.3"/>
<text x="480.50" y="322.36" font-size="9.5" text-anchor="middle" font-weight="bold">***</text>
<text transform="translate(494.40,323.60)" y="2.72" font-size="7.6" text-anchor="start">IFN-γ</text>
<line x1="470.20" y1="361.30" x2="470.20" y2="391.95" stroke-width="1.1"/>
<line x1="469.65" y1="391.40" x2="501.60" y2="391.40" stroke-width="1.1"/>
<line x1="467.00" y1="391.40" x2="470.20" y2="391.40" stroke-width="1.1"/>
<text transform="translate(465.00,391.40)" y="2.43" font-size="6.8" text-anchor="end">0</text>
<line x1="467.00" y1="382.20" x2="470.20" y2="382.20" stroke-width="1.1"/>
<text transform="translate(465.00,382.20)" y="2.43" font-size="6.8" text-anchor="end">10</text>
<line x1="467.00" y1="373.00" x2="470.20" y2="373.00" stroke-width="1.1"/>
<text transform="translate(465.00,373.00)" y="2.43" font-size="6.8" text-anchor="end">20</text>
<line x1="467.00" y1="363.80" x2="470.20" y2="363.80" stroke-width="1.1"/>
<text transform="translate(465.00,363.80)" y="2.43" font-size="6.8" text-anchor="end">30</text>
<line x1="475.00" y1="370.70" x2="475.00" y2="369.78" stroke-width="1.1"/>
<line x1="473.50" y1="369.78" x2="476.50" y2="369.78" stroke-width="1.1"/>
<rect x="472.10" y="370.70" width="5.80" height="20.70" fill="#000" stroke="none"/>
<line x1="475.00" y1="391.40" x2="475.00" y2="393.60" stroke-width="1.0"/>
<line x1="482.20" y1="371.44" x2="482.20" y2="370.52" stroke-width="1.1"/>
<line x1="480.70" y1="370.52" x2="483.70" y2="370.52" stroke-width="1.1"/>
<rect x="479.40" y="371.44" width="5.60" height="19.96" fill="#000" stroke="none"/>
<line x1="482.20" y1="391.40" x2="482.20" y2="393.60" stroke-width="1.0"/>
<line x1="489.60" y1="390.02" x2="489.60" y2="389.56" stroke-width="1.1"/>
<line x1="488.10" y1="389.56" x2="491.10" y2="389.56" stroke-width="1.1"/>
<rect x="487.10" y="390.02" width="5.00" height="1.38" fill="#000" stroke="none"/>
<line x1="489.60" y1="391.40" x2="489.60" y2="393.60" stroke-width="1.0"/>
<line x1="496.80" y1="389.56" x2="496.80" y2="388.92" stroke-width="1.1"/>
<line x1="495.30" y1="388.92" x2="498.30" y2="388.92" stroke-width="1.1"/>
<rect x="494.30" y="389.56" width="5.00" height="1.84" fill="#000" stroke="none"/>
<line x1="496.80" y1="391.40" x2="496.80" y2="393.60" stroke-width="1.0"/>
<line x1="473.50" y1="364.50" x2="486.50" y2="364.50" stroke-width="1.3"/>
<text x="480.50" y="363.86" font-size="9.5" text-anchor="middle" font-weight="bold">***</text>
<text transform="translate(494.40,368.00)" y="2.72" font-size="7.6" text-anchor="start">IL-17</text>
<text transform="translate(434.20,398.60) scale(1.052,1)" y="2.72" font-size="7.6" text-anchor="start">Anti-Dll1</text>
<text transform="translate(434.20,410.20) scale(1.052,1)" y="2.72" font-size="7.6" text-anchor="start">Anti-Dll4</text>
<text transform="translate(474.50,399.00)" y="2.51" font-size="7" text-anchor="middle">-</text>
<text transform="translate(474.50,410.60)" y="2.51" font-size="7" text-anchor="middle">-</text>
<text transform="translate(481.40,399.00)" y="2.51" font-size="7" text-anchor="middle">+</text>
<text transform="translate(481.40,410.60)" y="2.51" font-size="7" text-anchor="middle">-</text>
<text transform="translate(488.80,399.00)" y="2.51" font-size="7" text-anchor="middle">-</text>
<text transform="translate(488.80,410.60)" y="2.51" font-size="7" text-anchor="middle">+</text>
<text transform="translate(496.00,399.00)" y="2.51" font-size="7" text-anchor="middle">+</text>
<text transform="translate(496.00,410.60)" y="2.51" font-size="7" text-anchor="middle">+</text>
</g>
<rect x="0.5" y="0.5" width="519" height="421" fill="none" stroke="#000" stroke-width="1"/>
</svg>
</body></html>
